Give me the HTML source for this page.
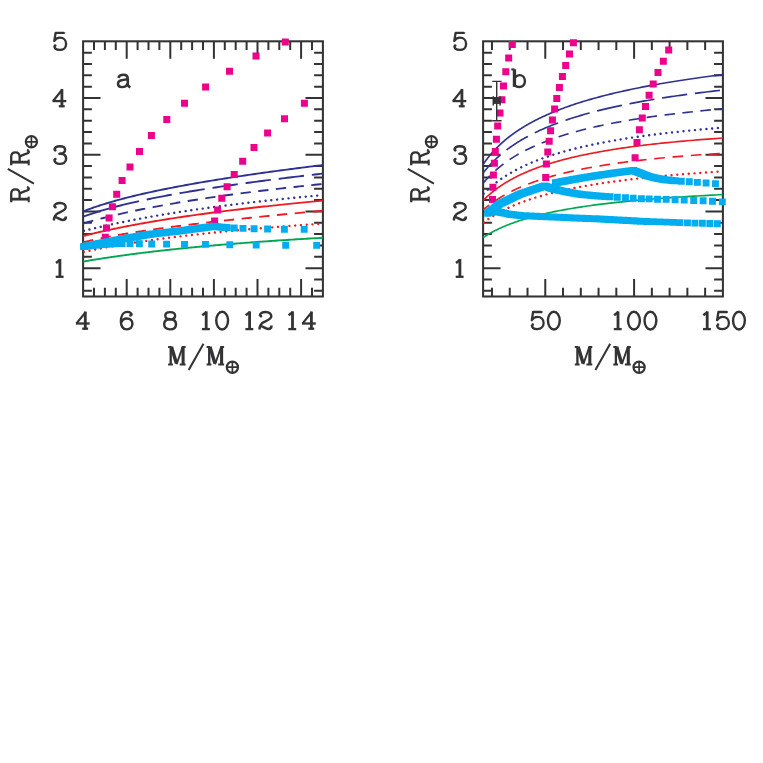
<!DOCTYPE html>
<html><head><meta charset="utf-8"><title>Mass-radius</title>
<style>html,body{margin:0;padding:0;background:#fff}svg{display:block}text{font-family:"Liberation Serif",serif}</style></head>
<body>
<svg width="763" height="763" viewBox="0 0 763 763">
<rect width="763" height="763" fill="#fff"/>
<path d="M94 41.3v8.8M94 296.5v-8.8M104.9 41.3v8.8M104.9 296.5v-8.8M115.8 41.3v8.8M115.8 296.5v-8.8M137.6 41.3v8.8M137.6 296.5v-8.8M148.5 41.3v8.8M148.5 296.5v-8.8M159.4 41.3v8.8M159.4 296.5v-8.8M181.2 41.3v8.8M181.2 296.5v-8.8M192.1 41.3v8.8M192.1 296.5v-8.8M203 41.3v8.8M203 296.5v-8.8M224.8 41.3v8.8M224.8 296.5v-8.8M235.7 41.3v8.8M235.7 296.5v-8.8M246.6 41.3v8.8M246.6 296.5v-8.8M268.4 41.3v8.8M268.4 296.5v-8.8M279.3 41.3v8.8M279.3 296.5v-8.8M290.2 41.3v8.8M290.2 296.5v-8.8M312 41.3v8.8M312 296.5v-8.8M126.7 41.3v17.4M126.7 296.5v-17.4M170.3 41.3v17.4M170.3 296.5v-17.4M213.9 41.3v17.4M213.9 296.5v-17.4M257.5 41.3v17.4M257.5 296.5v-17.4M301.1 41.3v17.4M301.1 296.5v-17.4M83.1 290.83h8.8M322.9 290.83h-8.8M83.1 279.49h8.8M322.9 279.49h-8.8M83.1 268.14h17.4M322.9 268.14h-17.4M83.1 256.8h8.8M322.9 256.8h-8.8M83.1 245.46h8.8M322.9 245.46h-8.8M83.1 234.12h8.8M322.9 234.12h-8.8M83.1 222.78h8.8M322.9 222.78h-8.8M83.1 211.43h17.4M322.9 211.43h-17.4M83.1 200.09h8.8M322.9 200.09h-8.8M83.1 188.75h8.8M322.9 188.75h-8.8M83.1 177.41h8.8M322.9 177.41h-8.8M83.1 166.06h8.8M322.9 166.06h-8.8M83.1 154.72h17.4M322.9 154.72h-17.4M83.1 143.38h8.8M322.9 143.38h-8.8M83.1 132.04h8.8M322.9 132.04h-8.8M83.1 120.7h8.8M322.9 120.7h-8.8M83.1 109.35h8.8M322.9 109.35h-8.8M83.1 98.01h17.4M322.9 98.01h-17.4M83.1 86.67h8.8M322.9 86.67h-8.8M83.1 75.33h8.8M322.9 75.33h-8.8M83.1 63.98h8.8M322.9 63.98h-8.8M83.1 52.64h8.8M322.9 52.64h-8.8" fill="none" stroke="#333335" stroke-width="2.0"/>
<rect x="83.1" y="41.3" width="239.8" height="255.2" fill="none" stroke="#333335" stroke-width="2.05"/>
<path d="M491.98 41.3v8.8M491.98 296.5v-8.8M509.74 41.3v8.8M509.74 296.5v-8.8M527.51 41.3v8.8M527.51 296.5v-8.8M563.03 41.3v8.8M563.03 296.5v-8.8M580.8 41.3v8.8M580.8 296.5v-8.8M598.56 41.3v8.8M598.56 296.5v-8.8M616.32 41.3v8.8M616.32 296.5v-8.8M651.85 41.3v8.8M651.85 296.5v-8.8M669.61 41.3v8.8M669.61 296.5v-8.8M687.37 41.3v8.8M687.37 296.5v-8.8M705.14 41.3v8.8M705.14 296.5v-8.8M545.27 41.3v17.4M545.27 296.5v-17.4M634.09 41.3v17.4M634.09 296.5v-17.4M483.1 290.83h8.8M722.9 290.83h-8.8M483.1 279.49h8.8M722.9 279.49h-8.8M483.1 268.14h17.4M722.9 268.14h-17.4M483.1 256.8h8.8M722.9 256.8h-8.8M483.1 245.46h8.8M722.9 245.46h-8.8M483.1 234.12h8.8M722.9 234.12h-8.8M483.1 222.78h8.8M722.9 222.78h-8.8M483.1 211.43h17.4M722.9 211.43h-17.4M483.1 200.09h8.8M722.9 200.09h-8.8M483.1 188.75h8.8M722.9 188.75h-8.8M483.1 177.41h8.8M722.9 177.41h-8.8M483.1 166.06h8.8M722.9 166.06h-8.8M483.1 154.72h17.4M722.9 154.72h-17.4M483.1 143.38h8.8M722.9 143.38h-8.8M483.1 132.04h8.8M722.9 132.04h-8.8M483.1 120.7h8.8M722.9 120.7h-8.8M483.1 109.35h8.8M722.9 109.35h-8.8M483.1 98.01h17.4M722.9 98.01h-17.4M483.1 86.67h8.8M722.9 86.67h-8.8M483.1 75.33h8.8M722.9 75.33h-8.8M483.1 63.98h8.8M722.9 63.98h-8.8M483.1 52.64h8.8M722.9 52.64h-8.8" fill="none" stroke="#333335" stroke-width="2.0"/>
<rect x="483.1" y="41.3" width="239.8" height="255.2" fill="none" stroke="#333335" stroke-width="2.05"/>
<clipPath id="ca"><rect x="83.1" y="37.3" width="239.8" height="259.2"/></clipPath>
<clipPath id="cb"><rect x="483.1" y="37.3" width="239.8" height="259.2"/></clipPath>
<g clip-path="url(#ca)">
<path d="M83.1 211.43 L83.83 211.15 L84.56 210.86 L85.3 210.57 L86.05 210.29 L86.8 210 L87.56 209.72 L88.32 209.44 L89.1 209.15 L89.87 208.87 L90.66 208.59 L91.45 208.3 L92.25 208.02 L93.05 207.74 L93.86 207.46 L94.68 207.17 L95.5 206.89 L96.34 206.61 L97.17 206.33 L98.02 206.05 L98.87 205.77 L99.73 205.49 L100.6 205.21 L101.47 204.93 L102.35 204.65 L103.24 204.37 L104.14 204.09 L105.04 203.81 L105.95 203.53 L106.87 203.25 L107.8 202.97 L108.73 202.69 L109.67 202.41 L110.62 202.13 L111.58 201.85 L112.55 201.57 L113.52 201.3 L114.5 201.02 L115.49 200.74 L116.49 200.46 L117.5 200.18 L118.51 199.9 L119.54 199.62 L120.57 199.35 L121.61 199.07 L122.66 198.79 L123.72 198.51 L124.78 198.23 L125.86 197.95 L126.94 197.68 L128.04 197.4 L129.14 197.12 L130.25 196.84 L131.38 196.56 L132.51 196.28 L133.65 196 L134.8 195.73 L135.96 195.45 L137.12 195.17 L138.3 194.89 L139.49 194.61 L140.69 194.33 L141.9 194.05 L143.12 193.77 L144.35 193.49 L145.59 193.21 L146.84 192.93 L148.1 192.65 L149.37 192.37 L150.65 192.09 L151.94 191.81 L153.24 191.53 L154.56 191.25 L155.88 190.96 L157.22 190.68 L158.56 190.4 L159.92 190.12 L161.29 189.84 L162.67 189.55 L164.06 189.27 L165.47 188.99 L166.88 188.7 L168.31 188.42 L169.75 188.13 L171.2 187.85 L172.66 187.57 L174.14 187.28 L175.63 186.99 L177.13 186.71 L178.64 186.42 L180.16 186.14 L181.7 185.85 L183.25 185.56 L184.82 185.27 L186.39 184.99 L187.98 184.7 L189.59 184.41 L191.2 184.12 L192.83 183.83 L194.48 183.54 L196.14 183.25 L197.81 182.96 L199.49 182.67 L201.19 182.37 L202.91 182.08 L204.63 181.79 L206.38 181.5 L208.13 181.2 L209.91 180.91 L211.69 180.61 L213.49 180.32 L215.31 180.02 L217.14 179.72 L218.99 179.43 L220.85 179.13 L222.73 178.83 L224.62 178.53 L226.53 178.23 L228.46 177.93 L230.4 177.63 L232.35 177.33 L234.33 177.03 L236.32 176.73 L238.33 176.42 L240.35 176.12 L242.39 175.82 L244.45 175.51 L246.52 175.21 L248.61 174.9 L250.72 174.59 L252.85 174.29 L255 173.98 L257.16 173.67 L259.34 173.36 L261.54 173.05 L263.76 172.74 L265.99 172.42 L268.25 172.11 L270.52 171.8 L272.81 171.48 L275.12 171.17 L277.45 170.85 L279.81 170.54 L282.18 170.22 L284.56 169.9 L286.97 169.58 L289.4 169.26 L291.85 168.94 L294.32 168.62 L296.82 168.3 L299.33 167.98 L301.86 167.65 L304.41 167.33 L306.99 167 L309.59 166.68 L312.21 166.35 L314.85 166.02 L317.51 165.69 L320.19 165.36 L322.9 165.03" fill="none" stroke="#2e3192" stroke-width="1.9"/>
<path d="M83.1 216.71 L83.83 216.45 L84.56 216.18 L85.3 215.92 L86.05 215.65 L86.8 215.39 L87.56 215.12 L88.32 214.86 L89.1 214.6 L89.87 214.33 L90.66 214.07 L91.45 213.81 L92.25 213.54 L93.05 213.28 L93.86 213.02 L94.68 212.76 L95.5 212.49 L96.34 212.23 L97.17 211.97 L98.02 211.71 L98.87 211.45 L99.73 211.19 L100.6 210.92 L101.47 210.66 L102.35 210.4 L103.24 210.14 L104.14 209.88 L105.04 209.62 L105.95 209.36 L106.87 209.1 L107.8 208.84 L108.73 208.58 L109.67 208.32 L110.62 208.06 L111.58 207.8 L112.55 207.54 L113.52 207.28 L114.5 207.02 L115.49 206.76 L116.49 206.5 L117.5 206.25 L118.51 205.99 L119.54 205.73 L120.57 205.47 L121.61 205.21 L122.66 204.95 L123.72 204.69 L124.78 204.43 L125.86 204.17 L126.94 203.91 L128.04 203.65 L129.14 203.39 L130.25 203.13 L131.38 202.87 L132.51 202.61 L133.65 202.35 L134.8 202.09 L135.96 201.83 L137.12 201.57 L138.3 201.31 L139.49 201.05 L140.69 200.79 L141.9 200.53 L143.12 200.27 L144.35 200.01 L145.59 199.75 L146.84 199.49 L148.1 199.23 L149.37 198.97 L150.65 198.7 L151.94 198.44 L153.24 198.18 L154.56 197.92 L155.88 197.66 L157.22 197.39 L158.56 197.13 L159.92 196.87 L161.29 196.61 L162.67 196.34 L164.06 196.08 L165.47 195.81 L166.88 195.55 L168.31 195.29 L169.75 195.02 L171.2 194.76 L172.66 194.49 L174.14 194.23 L175.63 193.96 L177.13 193.69 L178.64 193.43 L180.16 193.16 L181.7 192.89 L183.25 192.63 L184.82 192.36 L186.39 192.09 L187.98 191.82 L189.59 191.55 L191.2 191.28 L192.83 191.02 L194.48 190.75 L196.14 190.48 L197.81 190.2 L199.49 189.93 L201.19 189.66 L202.91 189.39 L204.63 189.12 L206.38 188.85 L208.13 188.57 L209.91 188.3 L211.69 188.02 L213.49 187.75 L215.31 187.48 L217.14 187.2 L218.99 186.92 L220.85 186.65 L222.73 186.37 L224.62 186.09 L226.53 185.82 L228.46 185.54 L230.4 185.26 L232.35 184.98 L234.33 184.7 L236.32 184.42 L238.33 184.14 L240.35 183.86 L242.39 183.57 L244.45 183.29 L246.52 183.01 L248.61 182.72 L250.72 182.44 L252.85 182.15 L255 181.87 L257.16 181.58 L259.34 181.3 L261.54 181.01 L263.76 180.72 L265.99 180.43 L268.25 180.14 L270.52 179.85 L272.81 179.56 L275.12 179.27 L277.45 178.98 L279.81 178.69 L282.18 178.39 L284.56 178.1 L286.97 177.8 L289.4 177.51 L291.85 177.21 L294.32 176.92 L296.82 176.62 L299.33 176.32 L301.86 176.02 L304.41 175.72 L306.99 175.42 L309.59 175.12 L312.21 174.82 L314.85 174.51 L317.51 174.21 L320.19 173.91 L322.9 173.6" fill="none" stroke="#2e3192" stroke-width="1.9" stroke-dasharray="58.07 7.87 25.5 7.9 25.5 7.9 25.5 7.9 25.5 7.9 25.5 7.9 25.5 7.9 25.5 7.9 25.5 7.9 25.5 7.9 25.5 7.9 25.5 7.9 25.5 7.9 25.5 7.9 25.5 7.9"/>
<path d="M83.1 223.5 L83.83 223.28 L84.56 223.07 L85.3 222.86 L86.05 222.64 L86.8 222.43 L87.56 222.21 L88.32 221.99 L89.1 221.78 L89.87 221.56 L90.66 221.34 L91.45 221.12 L92.25 220.9 L93.05 220.68 L93.86 220.46 L94.68 220.24 L95.5 220.02 L96.34 219.8 L97.17 219.58 L98.02 219.35 L98.87 219.13 L99.73 218.91 L100.6 218.68 L101.47 218.46 L102.35 218.23 L103.24 218.01 L104.14 217.78 L105.04 217.55 L105.95 217.32 L106.87 217.1 L107.8 216.87 L108.73 216.64 L109.67 216.41 L110.62 216.18 L111.58 215.95 L112.55 215.72 L113.52 215.48 L114.5 215.25 L115.49 215.02 L116.49 214.79 L117.5 214.55 L118.51 214.32 L119.54 214.08 L120.57 213.85 L121.61 213.61 L122.66 213.38 L123.72 213.14 L124.78 212.9 L125.86 212.67 L126.94 212.43 L128.04 212.19 L129.14 211.95 L130.25 211.71 L131.38 211.47 L132.51 211.23 L133.65 210.99 L134.8 210.75 L135.96 210.51 L137.12 210.27 L138.3 210.02 L139.49 209.78 L140.69 209.54 L141.9 209.29 L143.12 209.05 L144.35 208.81 L145.59 208.56 L146.84 208.31 L148.1 208.07 L149.37 207.82 L150.65 207.58 L151.94 207.33 L153.24 207.08 L154.56 206.83 L155.88 206.58 L157.22 206.34 L158.56 206.09 L159.92 205.84 L161.29 205.59 L162.67 205.34 L164.06 205.09 L165.47 204.84 L166.88 204.58 L168.31 204.33 L169.75 204.08 L171.2 203.83 L172.66 203.57 L174.14 203.32 L175.63 203.07 L177.13 202.81 L178.64 202.56 L180.16 202.3 L181.7 202.05 L183.25 201.79 L184.82 201.54 L186.39 201.28 L187.98 201.02 L189.59 200.77 L191.2 200.51 L192.83 200.25 L194.48 199.99 L196.14 199.73 L197.81 199.48 L199.49 199.22 L201.19 198.96 L202.91 198.7 L204.63 198.44 L206.38 198.18 L208.13 197.92 L209.91 197.65 L211.69 197.39 L213.49 197.13 L215.31 196.87 L217.14 196.61 L218.99 196.34 L220.85 196.08 L222.73 195.82 L224.62 195.56 L226.53 195.29 L228.46 195.03 L230.4 194.76 L232.35 194.5 L234.33 194.23 L236.32 193.97 L238.33 193.7 L240.35 193.44 L242.39 193.17 L244.45 192.9 L246.52 192.64 L248.61 192.37 L250.72 192.1 L252.85 191.83 L255 191.57 L257.16 191.3 L259.34 191.03 L261.54 190.76 L263.76 190.49 L265.99 190.22 L268.25 189.95 L270.52 189.69 L272.81 189.42 L275.12 189.15 L277.45 188.87 L279.81 188.6 L282.18 188.33 L284.56 188.06 L286.97 187.79 L289.4 187.52 L291.85 187.25 L294.32 186.98 L296.82 186.7 L299.33 186.43 L301.86 186.16 L304.41 185.89 L306.99 185.61 L309.59 185.34 L312.21 185.07 L314.85 184.79 L317.51 184.52 L320.19 184.24 L322.9 183.97" fill="none" stroke="#2e3192" stroke-width="1.9" stroke-dasharray="10.3 7.5" stroke-dashoffset="17.55"/>
<path d="M83.1 231.04 L83.83 230.86 L84.56 230.67 L85.3 230.49 L86.05 230.31 L86.8 230.12 L87.56 229.93 L88.32 229.75 L89.1 229.56 L89.87 229.37 L90.66 229.18 L91.45 228.99 L92.25 228.8 L93.05 228.6 L93.86 228.41 L94.68 228.22 L95.5 228.02 L96.34 227.83 L97.17 227.63 L98.02 227.43 L98.87 227.24 L99.73 227.04 L100.6 226.84 L101.47 226.64 L102.35 226.44 L103.24 226.24 L104.14 226.04 L105.04 225.83 L105.95 225.63 L106.87 225.43 L107.8 225.22 L108.73 225.02 L109.67 224.81 L110.62 224.6 L111.58 224.4 L112.55 224.19 L113.52 223.98 L114.5 223.77 L115.49 223.56 L116.49 223.35 L117.5 223.14 L118.51 222.93 L119.54 222.71 L120.57 222.5 L121.61 222.29 L122.66 222.07 L123.72 221.86 L124.78 221.64 L125.86 221.43 L126.94 221.21 L128.04 220.99 L129.14 220.78 L130.25 220.56 L131.38 220.34 L132.51 220.12 L133.65 219.9 L134.8 219.68 L135.96 219.46 L137.12 219.24 L138.3 219.01 L139.49 218.79 L140.69 218.57 L141.9 218.34 L143.12 218.12 L144.35 217.89 L145.59 217.67 L146.84 217.44 L148.1 217.22 L149.37 216.99 L150.65 216.76 L151.94 216.54 L153.24 216.31 L154.56 216.08 L155.88 215.85 L157.22 215.62 L158.56 215.39 L159.92 215.16 L161.29 214.93 L162.67 214.7 L164.06 214.47 L165.47 214.24 L166.88 214 L168.31 213.77 L169.75 213.54 L171.2 213.3 L172.66 213.07 L174.14 212.84 L175.63 212.6 L177.13 212.37 L178.64 212.13 L180.16 211.9 L181.7 211.66 L183.25 211.42 L184.82 211.19 L186.39 210.95 L187.98 210.71 L189.59 210.47 L191.2 210.24 L192.83 210 L194.48 209.76 L196.14 209.52 L197.81 209.28 L199.49 209.04 L201.19 208.8 L202.91 208.56 L204.63 208.32 L206.38 208.08 L208.13 207.84 L209.91 207.6 L211.69 207.36 L213.49 207.12 L215.31 206.87 L217.14 206.63 L218.99 206.39 L220.85 206.15 L222.73 205.9 L224.62 205.66 L226.53 205.42 L228.46 205.17 L230.4 204.93 L232.35 204.69 L234.33 204.44 L236.32 204.2 L238.33 203.95 L240.35 203.71 L242.39 203.46 L244.45 203.22 L246.52 202.98 L248.61 202.73 L250.72 202.48 L252.85 202.24 L255 201.99 L257.16 201.75 L259.34 201.5 L261.54 201.26 L263.76 201.01 L265.99 200.77 L268.25 200.52 L270.52 200.27 L272.81 200.03 L275.12 199.78 L277.45 199.53 L279.81 199.29 L282.18 199.04 L284.56 198.79 L286.97 198.55 L289.4 198.3 L291.85 198.05 L294.32 197.81 L296.82 197.56 L299.33 197.31 L301.86 197.07 L304.41 196.82 L306.99 196.57 L309.59 196.33 L312.21 196.08 L314.85 195.83 L317.51 195.59 L320.19 195.34 L322.9 195.09" fill="none" stroke="#2e3192" stroke-width="2.4" stroke-dasharray="0.01 5.75" stroke-dashoffset="4.95" stroke-linecap="round"/>
<path d="M83.1 236.03 L83.83 235.84 L84.56 235.65 L85.3 235.47 L86.05 235.28 L86.8 235.09 L87.56 234.9 L88.32 234.71 L89.1 234.52 L89.87 234.33 L90.66 234.14 L91.45 233.95 L92.25 233.75 L93.05 233.56 L93.86 233.37 L94.68 233.17 L95.5 232.98 L96.34 232.78 L97.17 232.59 L98.02 232.39 L98.87 232.19 L99.73 232 L100.6 231.8 L101.47 231.6 L102.35 231.4 L103.24 231.2 L104.14 231 L105.04 230.8 L105.95 230.6 L106.87 230.4 L107.8 230.19 L108.73 229.99 L109.67 229.79 L110.62 229.58 L111.58 229.38 L112.55 229.18 L113.52 228.97 L114.5 228.76 L115.49 228.56 L116.49 228.35 L117.5 228.14 L118.51 227.94 L119.54 227.73 L120.57 227.52 L121.61 227.31 L122.66 227.1 L123.72 226.89 L124.78 226.68 L125.86 226.47 L126.94 226.25 L128.04 226.04 L129.14 225.83 L130.25 225.62 L131.38 225.4 L132.51 225.19 L133.65 224.97 L134.8 224.76 L135.96 224.54 L137.12 224.33 L138.3 224.11 L139.49 223.9 L140.69 223.68 L141.9 223.46 L143.12 223.24 L144.35 223.02 L145.59 222.81 L146.84 222.59 L148.1 222.37 L149.37 222.15 L150.65 221.93 L151.94 221.7 L153.24 221.48 L154.56 221.26 L155.88 221.04 L157.22 220.82 L158.56 220.59 L159.92 220.37 L161.29 220.14 L162.67 219.92 L164.06 219.7 L165.47 219.47 L166.88 219.25 L168.31 219.02 L169.75 218.79 L171.2 218.57 L172.66 218.34 L174.14 218.11 L175.63 217.88 L177.13 217.66 L178.64 217.43 L180.16 217.2 L181.7 216.97 L183.25 216.74 L184.82 216.51 L186.39 216.28 L187.98 216.05 L189.59 215.82 L191.2 215.59 L192.83 215.35 L194.48 215.12 L196.14 214.89 L197.81 214.66 L199.49 214.42 L201.19 214.19 L202.91 213.96 L204.63 213.72 L206.38 213.49 L208.13 213.25 L209.91 213.02 L211.69 212.78 L213.49 212.55 L215.31 212.31 L217.14 212.08 L218.99 211.84 L220.85 211.6 L222.73 211.36 L224.62 211.13 L226.53 210.89 L228.46 210.65 L230.4 210.41 L232.35 210.17 L234.33 209.93 L236.32 209.7 L238.33 209.46 L240.35 209.22 L242.39 208.98 L244.45 208.74 L246.52 208.5 L248.61 208.25 L250.72 208.01 L252.85 207.77 L255 207.53 L257.16 207.29 L259.34 207.05 L261.54 206.8 L263.76 206.56 L265.99 206.32 L268.25 206.07 L270.52 205.83 L272.81 205.59 L275.12 205.34 L277.45 205.1 L279.81 204.85 L282.18 204.61 L284.56 204.37 L286.97 204.12 L289.4 203.87 L291.85 203.63 L294.32 203.38 L296.82 203.14 L299.33 202.89 L301.86 202.64 L304.41 202.4 L306.99 202.15 L309.59 201.9 L312.21 201.66 L314.85 201.41 L317.51 201.16 L320.19 200.91 L322.9 200.67" fill="none" stroke="#ed1c24" stroke-width="1.9"/>
<path d="M83.1 242.32 L83.83 242.14 L84.56 241.96 L85.3 241.78 L86.05 241.59 L86.8 241.41 L87.56 241.23 L88.32 241.05 L89.1 240.87 L89.87 240.69 L90.66 240.51 L91.45 240.33 L92.25 240.15 L93.05 239.97 L93.86 239.8 L94.68 239.62 L95.5 239.44 L96.34 239.26 L97.17 239.08 L98.02 238.9 L98.87 238.72 L99.73 238.54 L100.6 238.36 L101.47 238.18 L102.35 238 L103.24 237.83 L104.14 237.65 L105.04 237.47 L105.95 237.29 L106.87 237.11 L107.8 236.93 L108.73 236.75 L109.67 236.57 L110.62 236.39 L111.58 236.21 L112.55 236.04 L113.52 235.86 L114.5 235.68 L115.49 235.5 L116.49 235.32 L117.5 235.14 L118.51 234.96 L119.54 234.78 L120.57 234.6 L121.61 234.42 L122.66 234.24 L123.72 234.06 L124.78 233.88 L125.86 233.7 L126.94 233.51 L128.04 233.33 L129.14 233.15 L130.25 232.97 L131.38 232.79 L132.51 232.61 L133.65 232.42 L134.8 232.24 L135.96 232.06 L137.12 231.87 L138.3 231.69 L139.49 231.51 L140.69 231.32 L141.9 231.14 L143.12 230.96 L144.35 230.77 L145.59 230.59 L146.84 230.4 L148.1 230.21 L149.37 230.03 L150.65 229.84 L151.94 229.66 L153.24 229.47 L154.56 229.28 L155.88 229.09 L157.22 228.91 L158.56 228.72 L159.92 228.53 L161.29 228.34 L162.67 228.15 L164.06 227.96 L165.47 227.77 L166.88 227.58 L168.31 227.39 L169.75 227.19 L171.2 227 L172.66 226.81 L174.14 226.61 L175.63 226.42 L177.13 226.23 L178.64 226.03 L180.16 225.84 L181.7 225.64 L183.25 225.44 L184.82 225.25 L186.39 225.05 L187.98 224.85 L189.59 224.65 L191.2 224.45 L192.83 224.26 L194.48 224.06 L196.14 223.85 L197.81 223.65 L199.49 223.45 L201.19 223.25 L202.91 223.05 L204.63 222.84 L206.38 222.64 L208.13 222.43 L209.91 222.23 L211.69 222.02 L213.49 221.81 L215.31 221.6 L217.14 221.4 L218.99 221.19 L220.85 220.98 L222.73 220.77 L224.62 220.56 L226.53 220.34 L228.46 220.13 L230.4 219.92 L232.35 219.7 L234.33 219.49 L236.32 219.27 L238.33 219.06 L240.35 218.84 L242.39 218.62 L244.45 218.4 L246.52 218.18 L248.61 217.96 L250.72 217.74 L252.85 217.52 L255 217.3 L257.16 217.07 L259.34 216.85 L261.54 216.62 L263.76 216.4 L265.99 216.17 L268.25 215.94 L270.52 215.71 L272.81 215.48 L275.12 215.25 L277.45 215.02 L279.81 214.79 L282.18 214.56 L284.56 214.32 L286.97 214.09 L289.4 213.85 L291.85 213.61 L294.32 213.38 L296.82 213.14 L299.33 212.9 L301.86 212.66 L304.41 212.41 L306.99 212.17 L309.59 211.93 L312.21 211.68 L314.85 211.44 L317.51 211.19 L320.19 210.94 L322.9 210.69" fill="none" stroke="#ed1c24" stroke-width="1.9" stroke-dasharray="10.3 7.5" stroke-dashoffset="17.65"/>
<path d="M83.1 252.09 L83.83 251.93 L84.56 251.77 L85.3 251.61 L86.05 251.45 L86.8 251.29 L87.56 251.12 L88.32 250.96 L89.1 250.8 L89.87 250.63 L90.66 250.47 L91.45 250.3 L92.25 250.14 L93.05 249.97 L93.86 249.81 L94.68 249.64 L95.5 249.48 L96.34 249.31 L97.17 249.14 L98.02 248.97 L98.87 248.81 L99.73 248.64 L100.6 248.47 L101.47 248.3 L102.35 248.13 L103.24 247.96 L104.14 247.79 L105.04 247.62 L105.95 247.45 L106.87 247.28 L107.8 247.11 L108.73 246.94 L109.67 246.76 L110.62 246.59 L111.58 246.42 L112.55 246.25 L113.52 246.07 L114.5 245.9 L115.49 245.73 L116.49 245.55 L117.5 245.38 L118.51 245.2 L119.54 245.03 L120.57 244.85 L121.61 244.68 L122.66 244.5 L123.72 244.33 L124.78 244.15 L125.86 243.97 L126.94 243.8 L128.04 243.62 L129.14 243.44 L130.25 243.26 L131.38 243.09 L132.51 242.91 L133.65 242.73 L134.8 242.55 L135.96 242.37 L137.12 242.19 L138.3 242.02 L139.49 241.84 L140.69 241.66 L141.9 241.48 L143.12 241.3 L144.35 241.12 L145.59 240.94 L146.84 240.76 L148.1 240.58 L149.37 240.39 L150.65 240.21 L151.94 240.03 L153.24 239.85 L154.56 239.67 L155.88 239.49 L157.22 239.31 L158.56 239.12 L159.92 238.94 L161.29 238.76 L162.67 238.58 L164.06 238.39 L165.47 238.21 L166.88 238.03 L168.31 237.85 L169.75 237.66 L171.2 237.48 L172.66 237.3 L174.14 237.11 L175.63 236.93 L177.13 236.75 L178.64 236.56 L180.16 236.38 L181.7 236.19 L183.25 236.01 L184.82 235.82 L186.39 235.64 L187.98 235.46 L189.59 235.27 L191.2 235.09 L192.83 234.9 L194.48 234.72 L196.14 234.53 L197.81 234.35 L199.49 234.16 L201.19 233.98 L202.91 233.79 L204.63 233.61 L206.38 233.42 L208.13 233.24 L209.91 233.05 L211.69 232.87 L213.49 232.68 L215.31 232.5 L217.14 232.31 L218.99 232.12 L220.85 231.94 L222.73 231.75 L224.62 231.57 L226.53 231.38 L228.46 231.2 L230.4 231.01 L232.35 230.83 L234.33 230.64 L236.32 230.45 L238.33 230.27 L240.35 230.08 L242.39 229.9 L244.45 229.71 L246.52 229.53 L248.61 229.34 L250.72 229.16 L252.85 228.97 L255 228.79 L257.16 228.6 L259.34 228.41 L261.54 228.23 L263.76 228.04 L265.99 227.86 L268.25 227.67 L270.52 227.49 L272.81 227.3 L275.12 227.12 L277.45 226.93 L279.81 226.75 L282.18 226.56 L284.56 226.38 L286.97 226.2 L289.4 226.01 L291.85 225.83 L294.32 225.64 L296.82 225.46 L299.33 225.28 L301.86 225.09 L304.41 224.91 L306.99 224.72 L309.59 224.54 L312.21 224.36 L314.85 224.17 L317.51 223.99 L320.19 223.81 L322.9 223.62" fill="none" stroke="#ed1c24" stroke-width="2.4" stroke-dasharray="0.01 5.75" stroke-dashoffset="4.95" stroke-linecap="round"/>
<path d="M83.1 261.57 L83.83 261.45 L84.56 261.32 L85.3 261.2 L86.05 261.07 L86.8 260.94 L87.56 260.82 L88.32 260.69 L89.1 260.56 L89.87 260.43 L90.66 260.3 L91.45 260.17 L92.25 260.04 L93.05 259.91 L93.86 259.78 L94.68 259.65 L95.5 259.51 L96.34 259.38 L97.17 259.25 L98.02 259.11 L98.87 258.98 L99.73 258.84 L100.6 258.71 L101.47 258.57 L102.35 258.43 L103.24 258.3 L104.14 258.16 L105.04 258.02 L105.95 257.88 L106.87 257.74 L107.8 257.61 L108.73 257.47 L109.67 257.32 L110.62 257.18 L111.58 257.04 L112.55 256.9 L113.52 256.76 L114.5 256.62 L115.49 256.47 L116.49 256.33 L117.5 256.19 L118.51 256.04 L119.54 255.9 L120.57 255.75 L121.61 255.61 L122.66 255.46 L123.72 255.32 L124.78 255.17 L125.86 255.02 L126.94 254.88 L128.04 254.73 L129.14 254.58 L130.25 254.43 L131.38 254.28 L132.51 254.14 L133.65 253.99 L134.8 253.84 L135.96 253.69 L137.12 253.54 L138.3 253.39 L139.49 253.24 L140.69 253.09 L141.9 252.93 L143.12 252.78 L144.35 252.63 L145.59 252.48 L146.84 252.33 L148.1 252.18 L149.37 252.02 L150.65 251.87 L151.94 251.72 L153.24 251.56 L154.56 251.41 L155.88 251.26 L157.22 251.1 L158.56 250.95 L159.92 250.79 L161.29 250.64 L162.67 250.48 L164.06 250.33 L165.47 250.17 L166.88 250.02 L168.31 249.86 L169.75 249.71 L171.2 249.55 L172.66 249.39 L174.14 249.24 L175.63 249.08 L177.13 248.92 L178.64 248.77 L180.16 248.61 L181.7 248.45 L183.25 248.3 L184.82 248.14 L186.39 247.98 L187.98 247.82 L189.59 247.67 L191.2 247.51 L192.83 247.35 L194.48 247.19 L196.14 247.04 L197.81 246.88 L199.49 246.72 L201.19 246.56 L202.91 246.4 L204.63 246.24 L206.38 246.09 L208.13 245.93 L209.91 245.77 L211.69 245.61 L213.49 245.45 L215.31 245.29 L217.14 245.14 L218.99 244.98 L220.85 244.82 L222.73 244.66 L224.62 244.5 L226.53 244.34 L228.46 244.19 L230.4 244.03 L232.35 243.87 L234.33 243.71 L236.32 243.55 L238.33 243.39 L240.35 243.24 L242.39 243.08 L244.45 242.92 L246.52 242.76 L248.61 242.6 L250.72 242.45 L252.85 242.29 L255 242.13 L257.16 241.97 L259.34 241.82 L261.54 241.66 L263.76 241.5 L265.99 241.34 L268.25 241.19 L270.52 241.03 L272.81 240.87 L275.12 240.72 L277.45 240.56 L279.81 240.4 L282.18 240.25 L284.56 240.09 L286.97 239.94 L289.4 239.78 L291.85 239.63 L294.32 239.47 L296.82 239.32 L299.33 239.16 L301.86 239.01 L304.41 238.85 L306.99 238.7 L309.59 238.54 L312.21 238.39 L314.85 238.24 L317.51 238.08 L320.19 237.93 L322.9 237.78" fill="none" stroke="#00a651" stroke-width="1.9"/>
</g>
<g clip-path="url(#cb)">
<path d="M483.1 164.39 L483.49 163.82 L483.88 163.25 L484.28 162.68 L484.69 162.11 L485.1 161.54 L485.52 160.96 L485.94 160.39 L486.37 159.81 L486.81 159.24 L487.25 158.66 L487.7 158.08 L488.16 157.51 L488.62 156.93 L489.09 156.35 L489.56 155.77 L490.05 155.19 L490.54 154.6 L491.03 154.02 L491.54 153.44 L492.05 152.85 L492.57 152.27 L493.1 151.68 L493.63 151.1 L494.17 150.51 L494.72 149.93 L495.28 149.34 L495.85 148.75 L496.42 148.16 L497.01 147.57 L497.6 146.99 L498.2 146.4 L498.81 145.81 L499.42 145.22 L500.05 144.63 L500.69 144.03 L501.33 143.44 L501.99 142.85 L502.65 142.26 L503.32 141.67 L504.01 141.08 L504.7 140.48 L505.41 139.89 L506.12 139.3 L506.84 138.71 L507.58 138.11 L508.33 137.52 L509.08 136.93 L509.85 136.33 L510.63 135.74 L511.42 135.15 L512.22 134.55 L513.03 133.96 L513.86 133.37 L514.7 132.77 L515.55 132.18 L516.41 131.58 L517.28 130.99 L518.17 130.4 L519.07 129.81 L519.98 129.21 L520.91 128.62 L521.85 128.03 L522.8 127.44 L523.77 126.84 L524.75 126.25 L525.75 125.66 L526.76 125.07 L527.79 124.48 L528.83 123.89 L529.88 123.3 L530.95 122.71 L532.04 122.12 L533.14 121.53 L534.26 120.94 L535.4 120.35 L536.55 119.77 L537.72 119.18 L538.9 118.59 L540.1 118.01 L541.32 117.42 L542.56 116.84 L543.82 116.25 L545.09 115.67 L546.39 115.09 L547.7 114.5 L549.03 113.92 L550.38 113.34 L551.75 112.76 L553.14 112.18 L554.55 111.6 L555.98 111.02 L557.43 110.45 L558.91 109.87 L560.4 109.29 L561.92 108.72 L563.45 108.15 L565.02 107.57 L566.6 107 L568.21 106.43 L569.84 105.86 L571.49 105.29 L573.17 104.72 L574.87 104.15 L576.6 103.59 L578.35 103.02 L580.13 102.46 L581.93 101.9 L583.76 101.33 L585.62 100.77 L587.5 100.21 L589.42 99.65 L591.35 99.1 L593.32 98.54 L595.32 97.99 L597.34 97.43 L599.4 96.88 L601.48 96.33 L603.6 95.78 L605.75 95.23 L607.92 94.68 L610.13 94.14 L612.38 93.59 L614.65 93.05 L616.96 92.51 L619.3 91.97 L621.67 91.43 L624.08 90.89 L626.53 90.36 L629.01 89.82 L631.53 89.29 L634.08 88.76 L636.67 88.23 L639.3 87.7 L641.97 87.17 L644.67 86.65 L647.42 86.13 L650.21 85.6 L653.03 85.08 L655.9 84.57 L658.81 84.05 L661.76 83.54 L664.76 83.02 L667.79 82.51 L670.88 82 L674 81.5 L677.18 80.99 L680.4 80.49 L683.66 79.98 L686.98 79.49 L690.34 78.99 L693.75 78.49 L697.21 78 L700.73 77.51 L704.29 77.02 L707.9 76.53 L711.57 76.04 L715.29 75.56 L719.07 75.08 L722.9 74.6" fill="none" stroke="#2e3192" stroke-width="1.65"/>
<path d="M483.1 173.02 L483.49 172.53 L483.88 172.03 L484.28 171.52 L484.69 171.02 L485.1 170.51 L485.52 170.01 L485.94 169.5 L486.37 168.99 L486.81 168.47 L487.25 167.96 L487.7 167.45 L488.16 166.93 L488.62 166.41 L489.09 165.89 L489.56 165.37 L490.05 164.84 L490.54 164.32 L491.03 163.79 L491.54 163.27 L492.05 162.74 L492.57 162.21 L493.1 161.68 L493.63 161.15 L494.17 160.61 L494.72 160.08 L495.28 159.54 L495.85 159.01 L496.42 158.47 L497.01 157.93 L497.6 157.39 L498.2 156.85 L498.81 156.31 L499.42 155.76 L500.05 155.22 L500.69 154.68 L501.33 154.13 L501.99 153.58 L502.65 153.04 L503.32 152.49 L504.01 151.94 L504.7 151.39 L505.41 150.84 L506.12 150.29 L506.84 149.74 L507.58 149.19 L508.33 148.64 L509.08 148.08 L509.85 147.53 L510.63 146.98 L511.42 146.42 L512.22 145.87 L513.03 145.31 L513.86 144.76 L514.7 144.2 L515.55 143.65 L516.41 143.09 L517.28 142.54 L518.17 141.98 L519.07 141.42 L519.98 140.87 L520.91 140.31 L521.85 139.75 L522.8 139.2 L523.77 138.64 L524.75 138.08 L525.75 137.53 L526.76 136.97 L527.79 136.41 L528.83 135.86 L529.88 135.3 L530.95 134.74 L532.04 134.19 L533.14 133.63 L534.26 133.08 L535.4 132.52 L536.55 131.97 L537.72 131.41 L538.9 130.86 L540.1 130.31 L541.32 129.75 L542.56 129.2 L543.82 128.65 L545.09 128.1 L546.39 127.55 L547.7 127 L549.03 126.45 L550.38 125.9 L551.75 125.35 L553.14 124.8 L554.55 124.25 L555.98 123.71 L557.43 123.16 L558.91 122.62 L560.4 122.08 L561.92 121.53 L563.45 120.99 L565.02 120.45 L566.6 119.91 L568.21 119.37 L569.84 118.84 L571.49 118.3 L573.17 117.77 L574.87 117.23 L576.6 116.7 L578.35 116.17 L580.13 115.64 L581.93 115.11 L583.76 114.58 L585.62 114.05 L587.5 113.53 L589.42 113 L591.35 112.48 L593.32 111.96 L595.32 111.44 L597.34 110.92 L599.4 110.41 L601.48 109.89 L603.6 109.38 L605.75 108.87 L607.92 108.36 L610.13 107.85 L612.38 107.34 L614.65 106.84 L616.96 106.33 L619.3 105.83 L621.67 105.33 L624.08 104.84 L626.53 104.34 L629.01 103.85 L631.53 103.35 L634.08 102.86 L636.67 102.38 L639.3 101.89 L641.97 101.41 L644.67 100.93 L647.42 100.45 L650.21 99.97 L653.03 99.49 L655.9 99.02 L658.81 98.55 L661.76 98.08 L664.76 97.61 L667.79 97.15 L670.88 96.69 L674 96.23 L677.18 95.77 L680.4 95.32 L683.66 94.87 L686.98 94.42 L690.34 93.97 L693.75 93.53 L697.21 93.09 L700.73 92.65 L704.29 92.21 L707.9 91.78 L711.57 91.35 L715.29 90.92 L719.07 90.49 L722.9 90.07" fill="none" stroke="#2e3192" stroke-width="1.65" stroke-dasharray="25.3 7.8" stroke-dashoffset="0.08"/>
<path d="M483.1 183.24 L483.49 182.77 L483.88 182.3 L484.28 181.83 L484.69 181.36 L485.1 180.88 L485.52 180.41 L485.94 179.93 L486.37 179.45 L486.81 178.97 L487.25 178.49 L487.7 178 L488.16 177.52 L488.62 177.03 L489.09 176.55 L489.56 176.06 L490.05 175.57 L490.54 175.08 L491.03 174.59 L491.54 174.09 L492.05 173.6 L492.57 173.1 L493.1 172.61 L493.63 172.11 L494.17 171.61 L494.72 171.11 L495.28 170.61 L495.85 170.11 L496.42 169.61 L497.01 169.11 L497.6 168.6 L498.2 168.1 L498.81 167.59 L499.42 167.09 L500.05 166.58 L500.69 166.08 L501.33 165.57 L501.99 165.06 L502.65 164.55 L503.32 164.04 L504.01 163.53 L504.7 163.02 L505.41 162.51 L506.12 162 L506.84 161.49 L507.58 160.98 L508.33 160.47 L509.08 159.96 L509.85 159.45 L510.63 158.93 L511.42 158.42 L512.22 157.91 L513.03 157.4 L513.86 156.88 L514.7 156.37 L515.55 155.86 L516.41 155.35 L517.28 154.83 L518.17 154.32 L519.07 153.81 L519.98 153.3 L520.91 152.79 L521.85 152.27 L522.8 151.76 L523.77 151.25 L524.75 150.74 L525.75 150.23 L526.76 149.72 L527.79 149.21 L528.83 148.7 L529.88 148.2 L530.95 147.69 L532.04 147.18 L533.14 146.67 L534.26 146.17 L535.4 145.66 L536.55 145.16 L537.72 144.65 L538.9 144.15 L540.1 143.65 L541.32 143.15 L542.56 142.65 L543.82 142.15 L545.09 141.65 L546.39 141.15 L547.7 140.65 L549.03 140.16 L550.38 139.66 L551.75 139.17 L553.14 138.67 L554.55 138.18 L555.98 137.69 L557.43 137.2 L558.91 136.71 L560.4 136.23 L561.92 135.74 L563.45 135.26 L565.02 134.78 L566.6 134.29 L568.21 133.81 L569.84 133.34 L571.49 132.86 L573.17 132.38 L574.87 131.91 L576.6 131.44 L578.35 130.97 L580.13 130.5 L581.93 130.03 L583.76 129.56 L585.62 129.1 L587.5 128.64 L589.42 128.18 L591.35 127.72 L593.32 127.26 L595.32 126.81 L597.34 126.35 L599.4 125.9 L601.48 125.45 L603.6 125.01 L605.75 124.56 L607.92 124.12 L610.13 123.68 L612.38 123.24 L614.65 122.8 L616.96 122.37 L619.3 121.94 L621.67 121.51 L624.08 121.08 L626.53 120.66 L629.01 120.23 L631.53 119.81 L634.08 119.4 L636.67 118.98 L639.3 118.57 L641.97 118.16 L644.67 117.75 L647.42 117.35 L650.21 116.94 L653.03 116.54 L655.9 116.15 L658.81 115.75 L661.76 115.36 L664.76 114.97 L667.79 114.59 L670.88 114.2 L674 113.82 L677.18 113.45 L680.4 113.07 L683.66 112.7 L686.98 112.33 L690.34 111.97 L693.75 111.61 L697.21 111.25 L700.73 110.89 L704.29 110.54 L707.9 110.19 L711.57 109.84 L715.29 109.5 L719.07 109.16 L722.9 108.82" fill="none" stroke="#2e3192" stroke-width="1.65" stroke-dasharray="10.5 7.55" stroke-dashoffset="0.43"/>
<path d="M483.1 194.24 L483.49 193.84 L483.88 193.43 L484.28 193.02 L484.69 192.61 L485.1 192.2 L485.52 191.79 L485.94 191.37 L486.37 190.96 L486.81 190.54 L487.25 190.12 L487.7 189.7 L488.16 189.28 L488.62 188.85 L489.09 188.43 L489.56 188 L490.05 187.57 L490.54 187.15 L491.03 186.72 L491.54 186.28 L492.05 185.85 L492.57 185.42 L493.1 184.98 L493.63 184.55 L494.17 184.11 L494.72 183.67 L495.28 183.23 L495.85 182.79 L496.42 182.35 L497.01 181.91 L497.6 181.47 L498.2 181.02 L498.81 180.58 L499.42 180.13 L500.05 179.68 L500.69 179.24 L501.33 178.79 L501.99 178.34 L502.65 177.89 L503.32 177.44 L504.01 176.99 L504.7 176.54 L505.41 176.09 L506.12 175.64 L506.84 175.18 L507.58 174.73 L508.33 174.28 L509.08 173.82 L509.85 173.37 L510.63 172.91 L511.42 172.46 L512.22 172 L513.03 171.55 L513.86 171.09 L514.7 170.64 L515.55 170.18 L516.41 169.72 L517.28 169.27 L518.17 168.81 L519.07 168.36 L519.98 167.9 L520.91 167.44 L521.85 166.99 L522.8 166.53 L523.77 166.07 L524.75 165.62 L525.75 165.16 L526.76 164.71 L527.79 164.25 L528.83 163.8 L529.88 163.34 L530.95 162.89 L532.04 162.43 L533.14 161.98 L534.26 161.52 L535.4 161.07 L536.55 160.62 L537.72 160.17 L538.9 159.72 L540.1 159.27 L541.32 158.81 L542.56 158.37 L543.82 157.92 L545.09 157.47 L546.39 157.02 L547.7 156.57 L549.03 156.13 L550.38 155.68 L551.75 155.24 L553.14 154.79 L554.55 154.35 L555.98 153.91 L557.43 153.47 L558.91 153.03 L560.4 152.59 L561.92 152.15 L563.45 151.71 L565.02 151.28 L566.6 150.84 L568.21 150.41 L569.84 149.98 L571.49 149.55 L573.17 149.12 L574.87 148.69 L576.6 148.26 L578.35 147.84 L580.13 147.41 L581.93 146.99 L583.76 146.57 L585.62 146.15 L587.5 145.73 L589.42 145.31 L591.35 144.9 L593.32 144.48 L595.32 144.07 L597.34 143.66 L599.4 143.25 L601.48 142.84 L603.6 142.44 L605.75 142.03 L607.92 141.63 L610.13 141.23 L612.38 140.83 L614.65 140.44 L616.96 140.04 L619.3 139.65 L621.67 139.26 L624.08 138.87 L626.53 138.48 L629.01 138.1 L631.53 137.71 L634.08 137.33 L636.67 136.96 L639.3 136.58 L641.97 136.21 L644.67 135.83 L647.42 135.46 L650.21 135.1 L653.03 134.73 L655.9 134.37 L658.81 134.01 L661.76 133.65 L664.76 133.3 L667.79 132.94 L670.88 132.59 L674 132.25 L677.18 131.9 L680.4 131.56 L683.66 131.22 L686.98 130.88 L690.34 130.55 L693.75 130.22 L697.21 129.89 L700.73 129.56 L704.29 129.24 L707.9 128.92 L711.57 128.6 L715.29 128.28 L719.07 127.97 L722.9 127.66" fill="none" stroke="#2e3192" stroke-width="2.4" stroke-dasharray="0.01 5.75" stroke-dashoffset="4.96" stroke-linecap="round"/>
<path d="M483.1 200.52 L483.49 200.12 L483.88 199.73 L484.28 199.33 L484.69 198.93 L485.1 198.53 L485.52 198.12 L485.94 197.72 L486.37 197.31 L486.81 196.9 L487.25 196.49 L487.7 196.08 L488.16 195.67 L488.62 195.26 L489.09 194.84 L489.56 194.43 L490.05 194.01 L490.54 193.59 L491.03 193.18 L491.54 192.75 L492.05 192.33 L492.57 191.91 L493.1 191.49 L493.63 191.06 L494.17 190.64 L494.72 190.21 L495.28 189.79 L495.85 189.36 L496.42 188.93 L497.01 188.5 L497.6 188.07 L498.2 187.64 L498.81 187.21 L499.42 186.78 L500.05 186.34 L500.69 185.91 L501.33 185.48 L501.99 185.04 L502.65 184.61 L503.32 184.17 L504.01 183.74 L504.7 183.3 L505.41 182.87 L506.12 182.43 L506.84 181.99 L507.58 181.55 L508.33 181.12 L509.08 180.68 L509.85 180.24 L510.63 179.8 L511.42 179.37 L512.22 178.93 L513.03 178.49 L513.86 178.05 L514.7 177.61 L515.55 177.17 L516.41 176.74 L517.28 176.3 L518.17 175.86 L519.07 175.42 L519.98 174.99 L520.91 174.55 L521.85 174.11 L522.8 173.68 L523.77 173.24 L524.75 172.8 L525.75 172.37 L526.76 171.93 L527.79 171.5 L528.83 171.06 L529.88 170.63 L530.95 170.2 L532.04 169.77 L533.14 169.33 L534.26 168.9 L535.4 168.47 L536.55 168.04 L537.72 167.61 L538.9 167.19 L540.1 166.76 L541.32 166.33 L542.56 165.91 L543.82 165.48 L545.09 165.06 L546.39 164.64 L547.7 164.21 L549.03 163.79 L550.38 163.37 L551.75 162.96 L553.14 162.54 L554.55 162.12 L555.98 161.71 L557.43 161.29 L558.91 160.88 L560.4 160.47 L561.92 160.06 L563.45 159.65 L565.02 159.24 L566.6 158.84 L568.21 158.44 L569.84 158.03 L571.49 157.63 L573.17 157.23 L574.87 156.83 L576.6 156.44 L578.35 156.04 L580.13 155.65 L581.93 155.26 L583.76 154.87 L585.62 154.48 L587.5 154.09 L589.42 153.71 L591.35 153.33 L593.32 152.95 L595.32 152.57 L597.34 152.19 L599.4 151.82 L601.48 151.44 L603.6 151.07 L605.75 150.7 L607.92 150.34 L610.13 149.97 L612.38 149.61 L614.65 149.25 L616.96 148.89 L619.3 148.54 L621.67 148.19 L624.08 147.84 L626.53 147.49 L629.01 147.14 L631.53 146.8 L634.08 146.46 L636.67 146.12 L639.3 145.78 L641.97 145.45 L644.67 145.12 L647.42 144.79 L650.21 144.46 L653.03 144.14 L655.9 143.82 L658.81 143.5 L661.76 143.19 L664.76 142.88 L667.79 142.57 L670.88 142.26 L674 141.96 L677.18 141.66 L680.4 141.36 L683.66 141.07 L686.98 140.78 L690.34 140.49 L693.75 140.21 L697.21 139.92 L700.73 139.64 L704.29 139.37 L707.9 139.1 L711.57 138.83 L715.29 138.56 L719.07 138.3 L722.9 138.04" fill="none" stroke="#ed1c24" stroke-width="1.65"/>
<path d="M483.1 209.99 L483.49 209.66 L483.88 209.32 L484.28 208.99 L484.69 208.65 L485.1 208.31 L485.52 207.97 L485.94 207.62 L486.37 207.27 L486.81 206.93 L487.25 206.58 L487.7 206.22 L488.16 205.87 L488.62 205.51 L489.09 205.16 L489.56 204.8 L490.05 204.44 L490.54 204.07 L491.03 203.71 L491.54 203.34 L492.05 202.98 L492.57 202.61 L493.1 202.24 L493.63 201.86 L494.17 201.49 L494.72 201.11 L495.28 200.74 L495.85 200.36 L496.42 199.98 L497.01 199.6 L497.6 199.22 L498.2 198.84 L498.81 198.45 L499.42 198.07 L500.05 197.68 L500.69 197.3 L501.33 196.91 L501.99 196.52 L502.65 196.13 L503.32 195.74 L504.01 195.35 L504.7 194.96 L505.41 194.56 L506.12 194.17 L506.84 193.77 L507.58 193.38 L508.33 192.98 L509.08 192.59 L509.85 192.19 L510.63 191.79 L511.42 191.4 L512.22 191 L513.03 190.6 L513.86 190.2 L514.7 189.8 L515.55 189.4 L516.41 189 L517.28 188.6 L518.17 188.2 L519.07 187.8 L519.98 187.4 L520.91 187 L521.85 186.6 L522.8 186.2 L523.77 185.8 L524.75 185.4 L525.75 185 L526.76 184.6 L527.79 184.2 L528.83 183.8 L529.88 183.4 L530.95 183 L532.04 182.6 L533.14 182.2 L534.26 181.8 L535.4 181.41 L536.55 181.01 L537.72 180.61 L538.9 180.22 L540.1 179.82 L541.32 179.43 L542.56 179.03 L543.82 178.64 L545.09 178.25 L546.39 177.85 L547.7 177.46 L549.03 177.07 L550.38 176.68 L551.75 176.29 L553.14 175.91 L554.55 175.52 L555.98 175.14 L557.43 174.75 L558.91 174.37 L560.4 173.99 L561.92 173.6 L563.45 173.23 L565.02 172.85 L566.6 172.47 L568.21 172.09 L569.84 171.72 L571.49 171.35 L573.17 170.98 L574.87 170.6 L576.6 170.24 L578.35 169.87 L580.13 169.5 L581.93 169.14 L583.76 168.78 L585.62 168.42 L587.5 168.06 L589.42 167.7 L591.35 167.35 L593.32 166.99 L595.32 166.64 L597.34 166.29 L599.4 165.95 L601.48 165.6 L603.6 165.26 L605.75 164.92 L607.92 164.58 L610.13 164.24 L612.38 163.9 L614.65 163.57 L616.96 163.24 L619.3 162.91 L621.67 162.59 L624.08 162.26 L626.53 161.94 L629.01 161.62 L631.53 161.31 L634.08 160.99 L636.67 160.68 L639.3 160.37 L641.97 160.07 L644.67 159.76 L647.42 159.46 L650.21 159.17 L653.03 158.87 L655.9 158.58 L658.81 158.29 L661.76 158 L664.76 157.72 L667.79 157.44 L670.88 157.16 L674 156.89 L677.18 156.61 L680.4 156.35 L683.66 156.08 L686.98 155.82 L690.34 155.56 L693.75 155.3 L697.21 155.05 L700.73 154.8 L704.29 154.56 L707.9 154.31 L711.57 154.08 L715.29 153.84 L719.07 153.61 L722.9 153.38" fill="none" stroke="#ed1c24" stroke-width="1.65" stroke-dasharray="10.7 7.7" stroke-dashoffset="2.86"/>
<path d="M483.1 222.96 L483.49 222.66 L483.88 222.36 L484.28 222.06 L484.69 221.76 L485.1 221.46 L485.52 221.15 L485.94 220.84 L486.37 220.53 L486.81 220.22 L487.25 219.91 L487.7 219.59 L488.16 219.28 L488.62 218.96 L489.09 218.64 L489.56 218.32 L490.05 218 L490.54 217.68 L491.03 217.36 L491.54 217.03 L492.05 216.71 L492.57 216.38 L493.1 216.05 L493.63 215.72 L494.17 215.39 L494.72 215.06 L495.28 214.72 L495.85 214.39 L496.42 214.05 L497.01 213.72 L497.6 213.38 L498.2 213.04 L498.81 212.7 L499.42 212.36 L500.05 212.02 L500.69 211.68 L501.33 211.34 L501.99 211 L502.65 210.65 L503.32 210.31 L504.01 209.96 L504.7 209.62 L505.41 209.27 L506.12 208.92 L506.84 208.57 L507.58 208.22 L508.33 207.88 L509.08 207.53 L509.85 207.18 L510.63 206.82 L511.42 206.47 L512.22 206.12 L513.03 205.77 L513.86 205.42 L514.7 205.06 L515.55 204.71 L516.41 204.36 L517.28 204.01 L518.17 203.65 L519.07 203.3 L519.98 202.94 L520.91 202.59 L521.85 202.23 L522.8 201.88 L523.77 201.53 L524.75 201.17 L525.75 200.82 L526.76 200.46 L527.79 200.11 L528.83 199.75 L529.88 199.4 L530.95 199.04 L532.04 198.69 L533.14 198.34 L534.26 197.98 L535.4 197.63 L536.55 197.28 L537.72 196.92 L538.9 196.57 L540.1 196.22 L541.32 195.87 L542.56 195.51 L543.82 195.16 L545.09 194.81 L546.39 194.46 L547.7 194.11 L549.03 193.76 L550.38 193.41 L551.75 193.06 L553.14 192.72 L554.55 192.37 L555.98 192.02 L557.43 191.68 L558.91 191.33 L560.4 190.99 L561.92 190.64 L563.45 190.3 L565.02 189.96 L566.6 189.62 L568.21 189.28 L569.84 188.94 L571.49 188.6 L573.17 188.26 L574.87 187.93 L576.6 187.59 L578.35 187.26 L580.13 186.92 L581.93 186.59 L583.76 186.26 L585.62 185.93 L587.5 185.6 L589.42 185.27 L591.35 184.95 L593.32 184.62 L595.32 184.3 L597.34 183.97 L599.4 183.65 L601.48 183.33 L603.6 183.01 L605.75 182.7 L607.92 182.38 L610.13 182.06 L612.38 181.75 L614.65 181.44 L616.96 181.13 L619.3 180.82 L621.67 180.51 L624.08 180.21 L626.53 179.91 L629.01 179.6 L631.53 179.3 L634.08 179 L636.67 178.71 L639.3 178.41 L641.97 178.12 L644.67 177.83 L647.42 177.54 L650.21 177.25 L653.03 176.96 L655.9 176.68 L658.81 176.4 L661.76 176.12 L664.76 175.84 L667.79 175.56 L670.88 175.29 L674 175.02 L677.18 174.75 L680.4 174.48 L683.66 174.22 L686.98 173.95 L690.34 173.69 L693.75 173.43 L697.21 173.18 L700.73 172.92 L704.29 172.67 L707.9 172.42 L711.57 172.17 L715.29 171.93 L719.07 171.69 L722.9 171.45" fill="none" stroke="#ed1c24" stroke-width="2.4" stroke-dasharray="0.01 5.75" stroke-dashoffset="4.96" stroke-linecap="round"/>
<path d="M483.1 237.52 L483.49 237.27 L483.88 237.02 L484.28 236.76 L484.69 236.5 L485.1 236.25 L485.52 235.99 L485.94 235.72 L486.37 235.46 L486.81 235.2 L487.25 234.93 L487.7 234.67 L488.16 234.4 L488.62 234.13 L489.09 233.86 L489.56 233.59 L490.05 233.31 L490.54 233.04 L491.03 232.76 L491.54 232.49 L492.05 232.21 L492.57 231.93 L493.1 231.65 L493.63 231.37 L494.17 231.09 L494.72 230.81 L495.28 230.53 L495.85 230.24 L496.42 229.96 L497.01 229.67 L497.6 229.39 L498.2 229.1 L498.81 228.81 L499.42 228.52 L500.05 228.23 L500.69 227.94 L501.33 227.65 L501.99 227.36 L502.65 227.07 L503.32 226.77 L504.01 226.48 L504.7 226.19 L505.41 225.89 L506.12 225.6 L506.84 225.3 L507.58 225.01 L508.33 224.71 L509.08 224.41 L509.85 224.12 L510.63 223.82 L511.42 223.52 L512.22 223.22 L513.03 222.92 L513.86 222.63 L514.7 222.33 L515.55 222.03 L516.41 221.73 L517.28 221.43 L518.17 221.13 L519.07 220.83 L519.98 220.53 L520.91 220.23 L521.85 219.93 L522.8 219.63 L523.77 219.33 L524.75 219.03 L525.75 218.73 L526.76 218.43 L527.79 218.13 L528.83 217.84 L529.88 217.54 L530.95 217.24 L532.04 216.94 L533.14 216.64 L534.26 216.34 L535.4 216.04 L536.55 215.75 L537.72 215.45 L538.9 215.15 L540.1 214.86 L541.32 214.56 L542.56 214.27 L543.82 213.97 L545.09 213.68 L546.39 213.38 L547.7 213.09 L549.03 212.8 L550.38 212.5 L551.75 212.21 L553.14 211.92 L554.55 211.63 L555.98 211.34 L557.43 211.05 L558.91 210.76 L560.4 210.48 L561.92 210.19 L563.45 209.9 L565.02 209.62 L566.6 209.33 L568.21 209.05 L569.84 208.77 L571.49 208.49 L573.17 208.21 L574.87 207.93 L576.6 207.65 L578.35 207.37 L580.13 207.09 L581.93 206.82 L583.76 206.55 L585.62 206.27 L587.5 206 L589.42 205.73 L591.35 205.46 L593.32 205.19 L595.32 204.92 L597.34 204.66 L599.4 204.39 L601.48 204.13 L603.6 203.87 L605.75 203.61 L607.92 203.35 L610.13 203.09 L612.38 202.84 L614.65 202.58 L616.96 202.33 L619.3 202.08 L621.67 201.83 L624.08 201.58 L626.53 201.33 L629.01 201.09 L631.53 200.84 L634.08 200.6 L636.67 200.36 L639.3 200.12 L641.97 199.89 L644.67 199.65 L647.42 199.42 L650.21 199.19 L653.03 198.96 L655.9 198.73 L658.81 198.51 L661.76 198.28 L664.76 198.06 L667.79 197.84 L670.88 197.62 L674 197.41 L677.18 197.19 L680.4 196.98 L683.66 196.77 L686.98 196.57 L690.34 196.36 L693.75 196.16 L697.21 195.96 L700.73 195.76 L704.29 195.56 L707.9 195.37 L711.57 195.18 L715.29 194.99 L719.07 194.8 L722.9 194.62" fill="none" stroke="#00a651" stroke-width="1.65"/>
</g>
<path d="M101.8 233.7h7v7h-7zM103 224.5h7v7h-7zM105.6 214.4h7v7h-7zM108.9 203.3h7v7h-7zM113.2 190.7h7v7h-7zM118.6 177.1h7v7h-7zM126.5 163.5h7v7h-7zM136 148.1h7v7h-7zM147.9 132.1h7v7h-7zM163.3 116.1h7v7h-7zM181 99.8h7v7h-7zM202.1 83.4h7v7h-7zM226 67.7h7v7h-7zM252.5 52.4h7v7h-7zM281.8 38.4h7v7h-7zM211.1 217.5h7v7h-7zM214.1 206.4h7v7h-7zM218.3 194.7h7v7h-7zM223.6 183.2h7v7h-7zM230.7 171h7v7h-7zM239.2 157.7h7v7h-7zM250.5 144h7v7h-7zM264.1 129.4h7v7h-7zM281 115.2h7v7h-7zM300.9 99.8h7v7h-7z" fill="#ec008c"/>
<path d="M488.7 208.3h7v7h-7zM489 195.9h7v7h-7zM489.4 183.7h7v7h-7zM489.9 171.4h7v7h-7zM490.9 159.8h7v7h-7zM491.8 148h7v7h-7zM492.9 135.8h7v7h-7zM494.2 122.6h7v7h-7zM496.5 109.5h7v7h-7zM498.4 96.2h7v7h-7zM500 82.5h7v7h-7zM502.3 68.3h7v7h-7zM505.2 54.5h7v7h-7zM508.8 41.1h7v7h-7zM542.2 174h7v7h-7zM542.9 160.4h7v7h-7zM544.3 148.5h7v7h-7zM545.7 137.8h7v7h-7zM547.1 127.3h7v7h-7zM548.9 116.6h7v7h-7zM551.1 105.6h7v7h-7zM553.3 94.9h7v7h-7zM555.9 83.9h7v7h-7zM558.9 72.9h7v7h-7zM562.2 61.9h7v7h-7zM566 50.6h7v7h-7zM569.9 39.3h7v7h-7zM631.6 154.3h7v7h-7zM633.5 139.1h7v7h-7zM635.9 126.2h7v7h-7zM638.8 114.6h7v7h-7zM642 102.9h7v7h-7zM645.6 91.8h7v7h-7zM649.7 80.5h7v7h-7zM654.5 69h7v7h-7zM659.8 57.7h7v7h-7zM665.2 46.5h7v7h-7z" fill="#ec008c"/>
<path d="M80.05 243.15h6.9v6.9h-6.9zM81.03 242.96h6.9v6.9h-6.9zM82 242.77h6.9v6.9h-6.9zM82.98 242.58h6.9v6.9h-6.9zM83.95 242.39h6.9v6.9h-6.9zM84.93 242.2h6.9v6.9h-6.9zM85.91 242.01h6.9v6.9h-6.9zM86.88 241.82h6.9v6.9h-6.9zM87.86 241.63h6.9v6.9h-6.9zM88.84 241.44h6.9v6.9h-6.9zM89.81 241.25h6.9v6.9h-6.9zM90.79 241.05h6.9v6.9h-6.9zM91.76 240.86h6.9v6.9h-6.9zM92.74 240.67h6.9v6.9h-6.9zM93.72 240.48h6.9v6.9h-6.9zM94.69 240.29h6.9v6.9h-6.9zM95.67 240.1h6.9v6.9h-6.9zM96.65 239.91h6.9v6.9h-6.9zM97.62 239.72h6.9v6.9h-6.9zM98.6 239.53h6.9v6.9h-6.9zM99.57 239.34h6.9v6.9h-6.9zM100.55 239.15h6.9v6.9h-6.9zM101.55 238.96h6.9v6.9h-6.9zM102.55 238.76h6.9v6.9h-6.9zM103.55 238.56h6.9v6.9h-6.9zM104.55 238.37h6.9v6.9h-6.9zM105.55 238.18h6.9v6.9h-6.9zM106.55 237.98h6.9v6.9h-6.9zM107.55 237.78h6.9v6.9h-6.9zM108.55 237.59h6.9v6.9h-6.9zM109.55 237.4h6.9v6.9h-6.9zM110.55 237.2h6.9v6.9h-6.9zM111.55 237h6.9v6.9h-6.9zM112.55 236.81h6.9v6.9h-6.9zM113.55 236.62h6.9v6.9h-6.9zM114.55 236.42h6.9v6.9h-6.9zM115.55 236.22h6.9v6.9h-6.9zM116.55 236.03h6.9v6.9h-6.9zM117.55 235.84h6.9v6.9h-6.9zM118.55 235.64h6.9v6.9h-6.9zM119.55 235.44h6.9v6.9h-6.9zM120.55 235.25h6.9v6.9h-6.9zM121.55 235.08h6.9v6.9h-6.9zM122.55 234.91h6.9v6.9h-6.9zM123.55 234.74h6.9v6.9h-6.9zM124.55 234.57h6.9v6.9h-6.9zM125.55 234.4h6.9v6.9h-6.9zM126.55 234.23h6.9v6.9h-6.9zM127.55 234.07h6.9v6.9h-6.9zM128.55 233.9h6.9v6.9h-6.9zM129.55 233.73h6.9v6.9h-6.9zM130.55 233.56h6.9v6.9h-6.9zM131.55 233.39h6.9v6.9h-6.9zM132.55 233.22h6.9v6.9h-6.9zM133.55 233.05h6.9v6.9h-6.9zM134.55 232.88h6.9v6.9h-6.9zM135.55 232.71h6.9v6.9h-6.9zM136.55 232.54h6.9v6.9h-6.9zM137.55 232.37h6.9v6.9h-6.9zM138.55 232.2h6.9v6.9h-6.9zM139.55 232.03h6.9v6.9h-6.9zM140.55 231.87h6.9v6.9h-6.9zM141.55 231.7h6.9v6.9h-6.9zM142.55 231.53h6.9v6.9h-6.9zM143.55 231.36h6.9v6.9h-6.9zM144.55 231.19h6.9v6.9h-6.9zM145.55 231.02h6.9v6.9h-6.9zM146.55 230.85h6.9v6.9h-6.9zM147.55 230.74h6.9v6.9h-6.9zM148.55 230.62h6.9v6.9h-6.9zM149.55 230.51h6.9v6.9h-6.9zM150.55 230.4h6.9v6.9h-6.9zM151.55 230.28h6.9v6.9h-6.9zM152.55 230.17h6.9v6.9h-6.9zM153.55 230.06h6.9v6.9h-6.9zM154.55 229.94h6.9v6.9h-6.9zM155.55 229.83h6.9v6.9h-6.9zM156.55 229.72h6.9v6.9h-6.9zM157.55 229.6h6.9v6.9h-6.9zM158.55 229.49h6.9v6.9h-6.9zM159.55 229.38h6.9v6.9h-6.9zM160.55 229.26h6.9v6.9h-6.9zM161.55 229.15h6.9v6.9h-6.9zM162.55 229.04h6.9v6.9h-6.9zM163.55 228.92h6.9v6.9h-6.9zM164.55 228.81h6.9v6.9h-6.9zM165.55 228.7h6.9v6.9h-6.9zM166.55 228.58h6.9v6.9h-6.9zM167.55 228.47h6.9v6.9h-6.9zM168.55 228.36h6.9v6.9h-6.9zM169.55 228.24h6.9v6.9h-6.9zM170.55 228.13h6.9v6.9h-6.9zM171.55 228.02h6.9v6.9h-6.9zM172.55 227.9h6.9v6.9h-6.9zM173.55 227.79h6.9v6.9h-6.9zM174.55 227.68h6.9v6.9h-6.9zM175.55 227.56h6.9v6.9h-6.9zM176.55 227.45h6.9v6.9h-6.9zM177.55 227.32h6.9v6.9h-6.9zM178.55 227.18h6.9v6.9h-6.9zM179.55 227.05h6.9v6.9h-6.9zM180.55 226.91h6.9v6.9h-6.9zM181.55 226.78h6.9v6.9h-6.9zM182.55 226.64h6.9v6.9h-6.9zM183.55 226.51h6.9v6.9h-6.9zM184.55 226.37h6.9v6.9h-6.9zM185.55 226.24h6.9v6.9h-6.9zM186.55 226.1h6.9v6.9h-6.9zM187.55 225.97h6.9v6.9h-6.9zM188.55 225.83h6.9v6.9h-6.9zM189.55 225.69h6.9v6.9h-6.9zM190.55 225.56h6.9v6.9h-6.9zM191.55 225.43h6.9v6.9h-6.9zM192.55 225.29h6.9v6.9h-6.9zM193.55 225.16h6.9v6.9h-6.9zM194.55 225.02h6.9v6.9h-6.9zM195.55 224.88h6.9v6.9h-6.9zM196.55 224.75h6.9v6.9h-6.9zM197.52 224.61h6.9v6.9h-6.9zM198.49 224.48h6.9v6.9h-6.9zM199.46 224.34h6.9v6.9h-6.9zM200.44 224.21h6.9v6.9h-6.9zM201.41 224.07h6.9v6.9h-6.9zM202.38 223.94h6.9v6.9h-6.9zM203.35 223.8h6.9v6.9h-6.9zM204.32 223.66h6.9v6.9h-6.9zM205.29 223.53h6.9v6.9h-6.9zM206.26 223.39h6.9v6.9h-6.9zM207.24 223.26h6.9v6.9h-6.9zM208.21 223.12h6.9v6.9h-6.9zM209.18 222.99h6.9v6.9h-6.9zM210.15 222.85h6.9v6.9h-6.9zM211.15 222.98h6.9v6.9h-6.9zM212.15 223.1h6.9v6.9h-6.9zM213.15 223.23h6.9v6.9h-6.9zM214.15 223.35h6.9v6.9h-6.9zM215.2 223.45h6.9v6.9h-6.9zM216.25 223.55h6.9v6.9h-6.9zM217.3 223.65h6.9v6.9h-6.9zM218.35 223.75h6.9v6.9h-6.9zM219.41 223.83h6.9v6.9h-6.9zM220.47 223.91h6.9v6.9h-6.9zM221.53 223.99h6.9v6.9h-6.9zM222.59 224.07h6.9v6.9h-6.9zM223.65 224.15h6.9v6.9h-6.9zM230.75 224.55h6.9v6.9h-6.9zM239.55 224.95h6.9v6.9h-6.9zM250.65 225.25h6.9v6.9h-6.9zM264.15 225.55h6.9v6.9h-6.9zM280.95 225.75h6.9v6.9h-6.9zM300.75 225.95h6.9v6.9h-6.9zM80.05 243.15h6.9v6.9h-6.9zM81.02 243.03h6.9v6.9h-6.9zM81.99 242.91h6.9v6.9h-6.9zM82.96 242.8h6.9v6.9h-6.9zM83.93 242.68h6.9v6.9h-6.9zM84.9 242.56h6.9v6.9h-6.9zM85.87 242.44h6.9v6.9h-6.9zM86.84 242.33h6.9v6.9h-6.9zM87.81 242.21h6.9v6.9h-6.9zM88.79 242.09h6.9v6.9h-6.9zM89.76 241.97h6.9v6.9h-6.9zM90.73 241.86h6.9v6.9h-6.9zM91.7 241.74h6.9v6.9h-6.9zM92.67 241.62h6.9v6.9h-6.9zM93.64 241.5h6.9v6.9h-6.9zM94.61 241.39h6.9v6.9h-6.9zM95.58 241.27h6.9v6.9h-6.9zM96.55 241.15h6.9v6.9h-6.9zM97.53 241.09h6.9v6.9h-6.9zM98.51 241.03h6.9v6.9h-6.9zM99.5 240.97h6.9v6.9h-6.9zM100.48 240.91h6.9v6.9h-6.9zM101.46 240.86h6.9v6.9h-6.9zM102.44 240.8h6.9v6.9h-6.9zM103.43 240.74h6.9v6.9h-6.9zM104.41 240.68h6.9v6.9h-6.9zM105.39 240.62h6.9v6.9h-6.9zM106.37 240.56h6.9v6.9h-6.9zM107.36 240.5h6.9v6.9h-6.9zM108.34 240.44h6.9v6.9h-6.9zM109.32 240.39h6.9v6.9h-6.9zM110.3 240.33h6.9v6.9h-6.9zM111.29 240.27h6.9v6.9h-6.9zM112.27 240.21h6.9v6.9h-6.9zM113.25 240.15h6.9v6.9h-6.9zM114.33 240.13h6.9v6.9h-6.9zM115.41 240.11h6.9v6.9h-6.9zM116.49 240.09h6.9v6.9h-6.9zM117.57 240.07h6.9v6.9h-6.9zM118.65 240.05h6.9v6.9h-6.9zM126.55 240.15h6.9v6.9h-6.9zM135.95 240.35h6.9v6.9h-6.9zM148.25 240.55h6.9v6.9h-6.9zM163.15 240.65h6.9v6.9h-6.9zM181.05 240.95h6.9v6.9h-6.9zM202.05 240.95h6.9v6.9h-6.9zM226.35 241.25h6.9v6.9h-6.9zM252.75 241.65h6.9v6.9h-6.9zM282.25 241.75h6.9v6.9h-6.9zM313.25 241.95h6.9v6.9h-6.9z" fill="#00aeef"/>
<path d="M484.15 209.75h6.9v6.9h-6.9zM484.93 209.16h6.9v6.9h-6.9zM485.7 208.57h6.9v6.9h-6.9zM486.48 207.99h6.9v6.9h-6.9zM487.25 207.4h6.9v6.9h-6.9zM488.03 206.81h6.9v6.9h-6.9zM488.8 206.23h6.9v6.9h-6.9zM489.58 205.64h6.9v6.9h-6.9zM490.35 205.05h6.9v6.9h-6.9zM491.12 204.46h6.9v6.9h-6.9zM491.9 203.88h6.9v6.9h-6.9zM492.68 203.29h6.9v6.9h-6.9zM493.45 202.7h6.9v6.9h-6.9zM494.23 202.11h6.9v6.9h-6.9zM495 201.53h6.9v6.9h-6.9zM495.78 200.94h6.9v6.9h-6.9zM496.55 200.35h6.9v6.9h-6.9zM497.46 199.91h6.9v6.9h-6.9zM498.37 199.48h6.9v6.9h-6.9zM499.28 199.04h6.9v6.9h-6.9zM500.19 198.6h6.9v6.9h-6.9zM501.1 198.17h6.9v6.9h-6.9zM502 197.73h6.9v6.9h-6.9zM502.91 197.3h6.9v6.9h-6.9zM503.82 196.86h6.9v6.9h-6.9zM504.73 196.42h6.9v6.9h-6.9zM505.64 195.99h6.9v6.9h-6.9zM506.55 195.55h6.9v6.9h-6.9zM507.46 195.11h6.9v6.9h-6.9zM508.37 194.68h6.9v6.9h-6.9zM509.28 194.24h6.9v6.9h-6.9zM510.19 193.8h6.9v6.9h-6.9zM511.1 193.37h6.9v6.9h-6.9zM512 192.93h6.9v6.9h-6.9zM512.91 192.5h6.9v6.9h-6.9zM513.82 192.06h6.9v6.9h-6.9zM514.73 191.62h6.9v6.9h-6.9zM515.64 191.19h6.9v6.9h-6.9zM516.55 190.75h6.9v6.9h-6.9zM517.5 190.43h6.9v6.9h-6.9zM518.44 190.11h6.9v6.9h-6.9zM519.39 189.79h6.9v6.9h-6.9zM520.33 189.47h6.9v6.9h-6.9zM521.28 189.15h6.9v6.9h-6.9zM522.23 188.83h6.9v6.9h-6.9zM523.17 188.52h6.9v6.9h-6.9zM524.12 188.2h6.9v6.9h-6.9zM525.07 187.88h6.9v6.9h-6.9zM526.01 187.56h6.9v6.9h-6.9zM526.96 187.24h6.9v6.9h-6.9zM527.9 186.92h6.9v6.9h-6.9zM528.85 186.6h6.9v6.9h-6.9zM529.8 186.28h6.9v6.9h-6.9zM530.74 185.96h6.9v6.9h-6.9zM531.69 185.64h6.9v6.9h-6.9zM532.63 185.32h6.9v6.9h-6.9zM533.58 185h6.9v6.9h-6.9zM534.53 184.68h6.9v6.9h-6.9zM535.47 184.37h6.9v6.9h-6.9zM536.42 184.05h6.9v6.9h-6.9zM537.37 183.73h6.9v6.9h-6.9zM538.31 183.41h6.9v6.9h-6.9zM539.26 183.09h6.9v6.9h-6.9zM540.2 182.77h6.9v6.9h-6.9zM541.15 182.45h6.9v6.9h-6.9zM542.07 182.79h6.9v6.9h-6.9zM543 183.12h6.9v6.9h-6.9zM543.92 183.46h6.9v6.9h-6.9zM544.85 183.8h6.9v6.9h-6.9zM545.77 184.14h6.9v6.9h-6.9zM546.7 184.48h6.9v6.9h-6.9zM547.62 184.81h6.9v6.9h-6.9zM548.55 185.15h6.9v6.9h-6.9zM549.55 185.38h6.9v6.9h-6.9zM550.55 185.61h6.9v6.9h-6.9zM551.55 185.84h6.9v6.9h-6.9zM552.55 186.07h6.9v6.9h-6.9zM553.55 186.3h6.9v6.9h-6.9zM554.55 186.53h6.9v6.9h-6.9zM555.55 186.77h6.9v6.9h-6.9zM556.55 187h6.9v6.9h-6.9zM557.55 187.23h6.9v6.9h-6.9zM558.55 187.46h6.9v6.9h-6.9zM559.55 187.69h6.9v6.9h-6.9zM560.55 187.92h6.9v6.9h-6.9zM561.55 188.15h6.9v6.9h-6.9zM562.55 188.33h6.9v6.9h-6.9zM563.55 188.51h6.9v6.9h-6.9zM564.55 188.69h6.9v6.9h-6.9zM565.55 188.87h6.9v6.9h-6.9zM566.55 189.05h6.9v6.9h-6.9zM567.55 189.23h6.9v6.9h-6.9zM568.55 189.41h6.9v6.9h-6.9zM569.55 189.59h6.9v6.9h-6.9zM570.55 189.77h6.9v6.9h-6.9zM571.55 189.95h6.9v6.9h-6.9zM572.55 190.13h6.9v6.9h-6.9zM573.55 190.31h6.9v6.9h-6.9zM574.55 190.49h6.9v6.9h-6.9zM575.55 190.67h6.9v6.9h-6.9zM576.55 190.85h6.9v6.9h-6.9zM577.55 190.94h6.9v6.9h-6.9zM578.55 191.04h6.9v6.9h-6.9zM579.55 191.13h6.9v6.9h-6.9zM580.55 191.23h6.9v6.9h-6.9zM581.55 191.32h6.9v6.9h-6.9zM582.55 191.42h6.9v6.9h-6.9zM583.55 191.51h6.9v6.9h-6.9zM584.55 191.61h6.9v6.9h-6.9zM585.55 191.7h6.9v6.9h-6.9zM586.55 191.79h6.9v6.9h-6.9zM587.55 191.89h6.9v6.9h-6.9zM588.55 191.98h6.9v6.9h-6.9zM589.55 192.08h6.9v6.9h-6.9zM590.55 192.17h6.9v6.9h-6.9zM591.55 192.27h6.9v6.9h-6.9zM592.55 192.36h6.9v6.9h-6.9zM593.55 192.46h6.9v6.9h-6.9zM594.55 192.55h6.9v6.9h-6.9zM595.55 192.62h6.9v6.9h-6.9zM596.55 192.68h6.9v6.9h-6.9zM597.55 192.75h6.9v6.9h-6.9zM598.55 192.82h6.9v6.9h-6.9zM599.55 192.88h6.9v6.9h-6.9zM600.55 192.95h6.9v6.9h-6.9zM601.55 193.02h6.9v6.9h-6.9zM602.55 193.08h6.9v6.9h-6.9zM603.55 193.15h6.9v6.9h-6.9zM604.55 193.22h6.9v6.9h-6.9zM605.55 193.28h6.9v6.9h-6.9zM606.55 193.35h6.9v6.9h-6.9zM613.85 193.75h6.9v6.9h-6.9zM622.05 194.35h6.9v6.9h-6.9zM629.75 194.85h6.9v6.9h-6.9zM637.95 195.25h6.9v6.9h-6.9zM645.75 195.45h6.9v6.9h-6.9zM654.05 195.75h6.9v6.9h-6.9zM662.75 195.95h6.9v6.9h-6.9zM671.65 196.35h6.9v6.9h-6.9zM680.75 196.65h6.9v6.9h-6.9zM690.25 197.05h6.9v6.9h-6.9zM699.65 197.35h6.9v6.9h-6.9zM709.05 197.85h6.9v6.9h-6.9zM718.85 198.45h6.9v6.9h-6.9zM551.85 179.35h6.9v6.9h-6.9zM552.84 179.17h6.9v6.9h-6.9zM553.83 178.99h6.9v6.9h-6.9zM554.81 178.81h6.9v6.9h-6.9zM555.8 178.63h6.9v6.9h-6.9zM556.79 178.45h6.9v6.9h-6.9zM557.78 178.27h6.9v6.9h-6.9zM558.77 178.09h6.9v6.9h-6.9zM559.75 177.91h6.9v6.9h-6.9zM560.74 177.73h6.9v6.9h-6.9zM561.73 177.55h6.9v6.9h-6.9zM562.72 177.37h6.9v6.9h-6.9zM563.71 177.19h6.9v6.9h-6.9zM564.69 177.01h6.9v6.9h-6.9zM565.68 176.83h6.9v6.9h-6.9zM566.67 176.65h6.9v6.9h-6.9zM567.66 176.47h6.9v6.9h-6.9zM568.65 176.29h6.9v6.9h-6.9zM569.63 176.11h6.9v6.9h-6.9zM570.62 175.93h6.9v6.9h-6.9zM571.61 175.75h6.9v6.9h-6.9zM572.6 175.57h6.9v6.9h-6.9zM573.59 175.39h6.9v6.9h-6.9zM574.57 175.21h6.9v6.9h-6.9zM575.56 175.03h6.9v6.9h-6.9zM576.55 174.85h6.9v6.9h-6.9zM577.55 174.69h6.9v6.9h-6.9zM578.55 174.53h6.9v6.9h-6.9zM579.55 174.37h6.9v6.9h-6.9zM580.55 174.21h6.9v6.9h-6.9zM581.55 174.04h6.9v6.9h-6.9zM582.55 173.88h6.9v6.9h-6.9zM583.55 173.72h6.9v6.9h-6.9zM584.55 173.56h6.9v6.9h-6.9zM585.55 173.4h6.9v6.9h-6.9zM586.55 173.24h6.9v6.9h-6.9zM587.55 173.08h6.9v6.9h-6.9zM588.55 172.92h6.9v6.9h-6.9zM589.55 172.76h6.9v6.9h-6.9zM590.55 172.59h6.9v6.9h-6.9zM591.55 172.43h6.9v6.9h-6.9zM592.55 172.27h6.9v6.9h-6.9zM593.55 172.11h6.9v6.9h-6.9zM594.55 171.95h6.9v6.9h-6.9zM595.55 171.8h6.9v6.9h-6.9zM596.55 171.66h6.9v6.9h-6.9zM597.55 171.51h6.9v6.9h-6.9zM598.55 171.36h6.9v6.9h-6.9zM599.55 171.21h6.9v6.9h-6.9zM600.55 171.07h6.9v6.9h-6.9zM601.55 170.92h6.9v6.9h-6.9zM602.55 170.77h6.9v6.9h-6.9zM603.55 170.63h6.9v6.9h-6.9zM604.55 170.48h6.9v6.9h-6.9zM605.55 170.33h6.9v6.9h-6.9zM606.55 170.19h6.9v6.9h-6.9zM607.55 170.04h6.9v6.9h-6.9zM608.55 169.89h6.9v6.9h-6.9zM609.55 169.74h6.9v6.9h-6.9zM610.55 169.6h6.9v6.9h-6.9zM611.55 169.45h6.9v6.9h-6.9zM612.52 169.32h6.9v6.9h-6.9zM613.5 169.2h6.9v6.9h-6.9zM614.47 169.07h6.9v6.9h-6.9zM615.44 168.94h6.9v6.9h-6.9zM616.42 168.82h6.9v6.9h-6.9zM617.39 168.69h6.9v6.9h-6.9zM618.37 168.57h6.9v6.9h-6.9zM619.34 168.44h6.9v6.9h-6.9zM620.31 168.31h6.9v6.9h-6.9zM621.29 168.19h6.9v6.9h-6.9zM622.26 168.06h6.9v6.9h-6.9zM623.23 167.93h6.9v6.9h-6.9zM624.21 167.81h6.9v6.9h-6.9zM625.18 167.68h6.9v6.9h-6.9zM626.16 167.56h6.9v6.9h-6.9zM627.13 167.43h6.9v6.9h-6.9zM628.1 167.3h6.9v6.9h-6.9zM629.08 167.18h6.9v6.9h-6.9zM630.05 167.05h6.9v6.9h-6.9zM630.92 167.4h6.9v6.9h-6.9zM631.8 167.75h6.9v6.9h-6.9zM632.67 168.1h6.9v6.9h-6.9zM633.55 168.45h6.9v6.9h-6.9zM634.42 168.78h6.9v6.9h-6.9zM635.3 169.1h6.9v6.9h-6.9zM636.17 169.43h6.9v6.9h-6.9zM637.05 169.75h6.9v6.9h-6.9zM637.99 170.11h6.9v6.9h-6.9zM638.92 170.47h6.9v6.9h-6.9zM639.86 170.84h6.9v6.9h-6.9zM640.8 171.2h6.9v6.9h-6.9zM641.74 171.56h6.9v6.9h-6.9zM642.67 171.93h6.9v6.9h-6.9zM643.61 172.29h6.9v6.9h-6.9zM644.55 172.65h6.9v6.9h-6.9zM645.55 172.9h6.9v6.9h-6.9zM646.55 173.15h6.9v6.9h-6.9zM647.55 173.4h6.9v6.9h-6.9zM648.55 173.65h6.9v6.9h-6.9zM649.55 173.9h6.9v6.9h-6.9zM650.55 174.15h6.9v6.9h-6.9zM651.55 174.4h6.9v6.9h-6.9zM652.55 174.65h6.9v6.9h-6.9zM653.55 174.84h6.9v6.9h-6.9zM654.55 175.03h6.9v6.9h-6.9zM655.55 175.21h6.9v6.9h-6.9zM656.55 175.4h6.9v6.9h-6.9zM657.55 175.59h6.9v6.9h-6.9zM658.55 175.78h6.9v6.9h-6.9zM659.55 175.96h6.9v6.9h-6.9zM660.55 176.15h6.9v6.9h-6.9zM661.55 176.26h6.9v6.9h-6.9zM662.55 176.38h6.9v6.9h-6.9zM663.55 176.49h6.9v6.9h-6.9zM664.55 176.6h6.9v6.9h-6.9zM665.55 176.71h6.9v6.9h-6.9zM666.55 176.83h6.9v6.9h-6.9zM667.55 176.94h6.9v6.9h-6.9zM668.55 177.05h6.9v6.9h-6.9zM669.55 177.15h6.9v6.9h-6.9zM670.55 177.25h6.9v6.9h-6.9zM671.55 177.35h6.9v6.9h-6.9zM672.55 177.45h6.9v6.9h-6.9zM677.85 177.75h6.9v6.9h-6.9zM685.85 178.25h6.9v6.9h-6.9zM693.95 178.95h6.9v6.9h-6.9zM702.65 179.55h6.9v6.9h-6.9zM712.05 180.15h6.9v6.9h-6.9zM713.85 220.35h6.9v6.9h-6.9zM706.39 220.11h6.9v6.9h-6.9zM698.93 219.87h6.9v6.9h-6.9zM691.47 219.63h6.9v6.9h-6.9zM684.01 219.39h6.9v6.9h-6.9zM676.55 219.15h6.9v6.9h-6.9zM669.88 218.92h6.9v6.9h-6.9zM663.22 218.68h6.9v6.9h-6.9zM656.55 218.45h6.9v6.9h-6.9zM649.88 218.22h6.9v6.9h-6.9zM643.22 217.98h6.9v6.9h-6.9zM636.55 217.75h6.9v6.9h-6.9zM629.55 217.37h6.9v6.9h-6.9zM622.55 216.98h6.9v6.9h-6.9zM615.55 216.6h6.9v6.9h-6.9zM608.55 216.22h6.9v6.9h-6.9zM601.55 215.83h6.9v6.9h-6.9zM484.15 209.75h6.9v6.9h-6.9zM485.85 209.3h6.9v6.9h-6.9zM487.55 208.85h6.9v6.9h-6.9zM489.15 208.55h6.9v6.9h-6.9zM490.75 208.25h6.9v6.9h-6.9zM492.65 208.35h6.9v6.9h-6.9zM494.55 208.45h6.9v6.9h-6.9zM496.35 208.75h6.9v6.9h-6.9zM498.15 209.05h6.9v6.9h-6.9zM500.1 209.5h6.9v6.9h-6.9zM502.05 209.95h6.9v6.9h-6.9zM504 210.4h6.9v6.9h-6.9zM505.95 210.85h6.9v6.9h-6.9zM508.07 211.09h6.9v6.9h-6.9zM510.19 211.33h6.9v6.9h-6.9zM512.31 211.57h6.9v6.9h-6.9zM514.43 211.81h6.9v6.9h-6.9zM516.55 212.05h6.9v6.9h-6.9zM518.35 212.15h6.9v6.9h-6.9zM520.15 212.25h6.9v6.9h-6.9zM521.95 212.35h6.9v6.9h-6.9zM523.75 212.45h6.9v6.9h-6.9zM525.55 212.55h6.9v6.9h-6.9zM527.42 212.62h6.9v6.9h-6.9zM529.3 212.7h6.9v6.9h-6.9zM531.17 212.78h6.9v6.9h-6.9zM533.05 212.85h6.9v6.9h-6.9zM534.92 212.93h6.9v6.9h-6.9zM536.8 213h6.9v6.9h-6.9zM538.67 213.08h6.9v6.9h-6.9zM540.55 213.15h6.9v6.9h-6.9zM542.55 213.24h6.9v6.9h-6.9zM544.55 213.33h6.9v6.9h-6.9zM546.55 213.42h6.9v6.9h-6.9zM548.55 213.51h6.9v6.9h-6.9zM550.55 213.59h6.9v6.9h-6.9zM552.55 213.68h6.9v6.9h-6.9zM554.55 213.77h6.9v6.9h-6.9zM556.55 213.86h6.9v6.9h-6.9zM558.55 213.95h6.9v6.9h-6.9zM560.55 214.04h6.9v6.9h-6.9zM562.55 214.13h6.9v6.9h-6.9zM564.55 214.22h6.9v6.9h-6.9zM566.55 214.31h6.9v6.9h-6.9zM568.55 214.39h6.9v6.9h-6.9zM570.55 214.48h6.9v6.9h-6.9zM572.55 214.57h6.9v6.9h-6.9zM574.55 214.66h6.9v6.9h-6.9zM576.55 214.75h6.9v6.9h-6.9zM578.55 214.83h6.9v6.9h-6.9zM580.55 214.91h6.9v6.9h-6.9zM582.55 214.98h6.9v6.9h-6.9zM584.55 215.06h6.9v6.9h-6.9zM586.55 215.14h6.9v6.9h-6.9zM588.55 215.22h6.9v6.9h-6.9zM590.55 215.29h6.9v6.9h-6.9zM592.55 215.37h6.9v6.9h-6.9zM594.55 215.45h6.9v6.9h-6.9zM596.55 215.56h6.9v6.9h-6.9zM598.55 215.67h6.9v6.9h-6.9zM600.55 215.78h6.9v6.9h-6.9zM602.55 215.89h6.9v6.9h-6.9zM604.55 216h6.9v6.9h-6.9zM606.55 216.11h6.9v6.9h-6.9zM608.55 216.22h6.9v6.9h-6.9zM610.55 216.33h6.9v6.9h-6.9zM612.55 216.44h6.9v6.9h-6.9zM614.55 216.55h6.9v6.9h-6.9zM616.55 216.65h6.9v6.9h-6.9zM618.55 216.76h6.9v6.9h-6.9zM620.55 216.87h6.9v6.9h-6.9zM622.55 216.98h6.9v6.9h-6.9zM624.55 217.09h6.9v6.9h-6.9zM626.55 217.2h6.9v6.9h-6.9zM628.55 217.31h6.9v6.9h-6.9zM630.55 217.42h6.9v6.9h-6.9zM632.55 217.53h6.9v6.9h-6.9zM634.55 217.64h6.9v6.9h-6.9zM636.55 217.75h6.9v6.9h-6.9z" fill="#00aeef"/>
<path d="M496.7 81.4V120.7M492.2 81.4h9.4M492.2 120.7h9.4" fill="none" stroke="#333335" stroke-width="1.4"/>
<path d="M493.3 96.2V105.6M500.1 96.2V105.6" fill="none" stroke="#333335" stroke-width="1.5"/>
<rect x="493.3" y="98.1" width="6.8" height="5.8" fill="#333335"/>
<g transform="translate(55.7 258.79)" fill="none" stroke="#333335" stroke-linejoin="round">
<path d="M4.2 0.3V18.2" stroke-width="2.82"/>
<path d="M4.6 0.9L0.3 4.2" stroke-width="2.43"/>
<path d="M0 18.0H7.9" stroke-width="2.3"/>
</g>
<g transform="translate(53.1 202.08)" fill="none" stroke="#333335" stroke-linejoin="round">
<circle cx="2.2" cy="5.1" r="1.35" fill="#333335" stroke="none"/>
<path d="M1.1 4.8C1.0 2.5 3.5 0.9 7.0 0.9C10.5 0.9 12.6 2.8 12.6 5.2C12.6 8.0 9.0 9.3 5.5 10.8C2.5 12.2 0.9 14.5 0.8 18.4" stroke-width="2.43"/>
<path d="M1.2 15.0C3.5 14.2 6.5 17.9 9.5 17.9C11.8 17.9 12.8 16.5 12.8 14.4" stroke-width="2.56"/>
</g>
<g transform="translate(53.1 145.37)" fill="none" stroke="#333335" stroke-linejoin="round">
<circle cx="2.1" cy="5" r="1.35" fill="#333335" stroke="none"/>
<circle cx="2.2" cy="13.7" r="1.35" fill="#333335" stroke="none"/>
<path d="M1.2 4.6C1.5 2.2 3.8 0.9 6.6 0.9C9.8 0.9 12.0 2.3 12.0 4.5C12.0 6.8 9.8 8.3 6.3 8.3H7.7C10.8 8.4 13.0 10.3 13.0 13.3C13.0 16.5 10.3 18.5 6.6 18.5C3.3 18.5 1.2 16.6 1.2 14.0" stroke-width="2.43"/>
</g>
<g transform="translate(52.5 88.66)" fill="none" stroke="#333335" stroke-linejoin="round">
<path d="M9.4 0.5V18.4" stroke-width="2.82"/>
<path d="M9.9 0.9L0.6 12.3" stroke-width="2.18"/>
<path d="M0 12.4H13.8" stroke-width="2.3"/>
<path d="M6.3 17.6H12.2" stroke-width="2.3"/>
</g>
<g transform="translate(52.8 31.95)" fill="none" stroke="#333335" stroke-linejoin="round">
<circle cx="2.4" cy="13.6" r="1.35" fill="#333335" stroke="none"/>
<path d="M11.3 0.2V0.9H2.8L1.5 9.0C2.8 6.8 4.9 5.7 7.1 5.7C10.8 5.7 13.3 8.4 13.3 12.0C13.3 15.7 10.6 18.0 7.0 18.0C3.8 18.0 1.5 16.4 1.5 13.9" stroke-width="2.3"/>
</g>
<g transform="translate(455.7 258.79)" fill="none" stroke="#333335" stroke-linejoin="round">
<path d="M4.2 0.3V18.2" stroke-width="2.82"/>
<path d="M4.6 0.9L0.3 4.2" stroke-width="2.43"/>
<path d="M0 18.0H7.9" stroke-width="2.3"/>
</g>
<g transform="translate(453.1 202.08)" fill="none" stroke="#333335" stroke-linejoin="round">
<circle cx="2.2" cy="5.1" r="1.35" fill="#333335" stroke="none"/>
<path d="M1.1 4.8C1.0 2.5 3.5 0.9 7.0 0.9C10.5 0.9 12.6 2.8 12.6 5.2C12.6 8.0 9.0 9.3 5.5 10.8C2.5 12.2 0.9 14.5 0.8 18.4" stroke-width="2.43"/>
<path d="M1.2 15.0C3.5 14.2 6.5 17.9 9.5 17.9C11.8 17.9 12.8 16.5 12.8 14.4" stroke-width="2.56"/>
</g>
<g transform="translate(453.1 145.37)" fill="none" stroke="#333335" stroke-linejoin="round">
<circle cx="2.1" cy="5" r="1.35" fill="#333335" stroke="none"/>
<circle cx="2.2" cy="13.7" r="1.35" fill="#333335" stroke="none"/>
<path d="M1.2 4.6C1.5 2.2 3.8 0.9 6.6 0.9C9.8 0.9 12.0 2.3 12.0 4.5C12.0 6.8 9.8 8.3 6.3 8.3H7.7C10.8 8.4 13.0 10.3 13.0 13.3C13.0 16.5 10.3 18.5 6.6 18.5C3.3 18.5 1.2 16.6 1.2 14.0" stroke-width="2.43"/>
</g>
<g transform="translate(452.5 88.66)" fill="none" stroke="#333335" stroke-linejoin="round">
<path d="M9.4 0.5V18.4" stroke-width="2.82"/>
<path d="M9.9 0.9L0.6 12.3" stroke-width="2.18"/>
<path d="M0 12.4H13.8" stroke-width="2.3"/>
<path d="M6.3 17.6H12.2" stroke-width="2.3"/>
</g>
<g transform="translate(452.8 31.95)" fill="none" stroke="#333335" stroke-linejoin="round">
<circle cx="2.4" cy="13.6" r="1.35" fill="#333335" stroke="none"/>
<path d="M11.3 0.2V0.9H2.8L1.5 9.0C2.8 6.8 4.9 5.7 7.1 5.7C10.8 5.7 13.3 8.4 13.3 12.0C13.3 15.7 10.6 18.0 7.0 18.0C3.8 18.0 1.5 16.4 1.5 13.9" stroke-width="2.3"/>
</g>
<g transform="translate(75.9 311.1)" fill="none" stroke="#333335" stroke-linejoin="round">
<path d="M9.4 0.5V18.4" stroke-width="2.82"/>
<path d="M9.9 0.9L0.6 12.3" stroke-width="2.18"/>
<path d="M0 12.4H13.8" stroke-width="2.3"/>
<path d="M6.3 17.6H12.2" stroke-width="2.3"/>
</g>
<g transform="translate(119.9 311.1)" fill="none" stroke="#333335" stroke-linejoin="round">
<circle cx="10.6" cy="4.3" r="1.35" fill="#333335" stroke="none"/>
<path d="M11.7 4.2C12.0 2.2 10.2 0.8 7.3 0.8C3.0 0.8 1.0 5.5 1.0 10.5C1.0 15.5 3.0 18.3 6.9 18.3C10.5 18.3 12.5 15.8 12.5 12.7C12.5 9.6 10.3 7.4 7.0 7.4C4.3 7.4 2.2 9.0 1.2 11.6" stroke-width="2.43"/>
</g>
<g transform="translate(163.1 311.1)" fill="none" stroke="#333335" stroke-linejoin="round">
<path d="M7.0 1.0C10.4 1.0 12.0 2.4 12.0 4.6C12.0 6.8 10.4 8.1 7.0 8.1C3.7 8.1 2.2 6.8 2.2 4.6C2.2 2.4 3.7 1.0 7.0 1.0Z" stroke-width="2.43"/>
<path d="M7.0 8.1C10.9 8.1 12.9 10.2 12.9 13.2C12.9 16.2 10.9 18.3 7.0 18.3C3.0 18.3 1.05 16.2 1.05 13.2C1.05 10.2 3.0 8.1 7.0 8.1Z" stroke-width="2.43"/>
</g>
<g transform="translate(202 311.1)" fill="none" stroke="#333335" stroke-linejoin="round">
<path d="M4.2 0.3V18.2" stroke-width="2.82"/>
<path d="M4.6 0.9L0.3 4.2" stroke-width="2.43"/>
<path d="M0 18.0H7.9" stroke-width="2.3"/>
</g>
<g transform="translate(215.3 311.1)" fill="none" stroke="#333335" stroke-linejoin="round">
<ellipse cx="6.85" cy="9.5" rx="5.9" ry="8.85" stroke-width="2.43"/>
</g>
<g transform="translate(245.4 311.1)" fill="none" stroke="#333335" stroke-linejoin="round">
<path d="M4.2 0.3V18.2" stroke-width="2.82"/>
<path d="M4.6 0.9L0.3 4.2" stroke-width="2.43"/>
<path d="M0 18.0H7.9" stroke-width="2.3"/>
</g>
<g transform="translate(258.7 311.1)" fill="none" stroke="#333335" stroke-linejoin="round">
<circle cx="2.2" cy="5.1" r="1.35" fill="#333335" stroke="none"/>
<path d="M1.1 4.8C1.0 2.5 3.5 0.9 7.0 0.9C10.5 0.9 12.6 2.8 12.6 5.2C12.6 8.0 9.0 9.3 5.5 10.8C2.5 12.2 0.9 14.5 0.8 18.4" stroke-width="2.43"/>
<path d="M1.2 15.0C3.5 14.2 6.5 17.9 9.5 17.9C11.8 17.9 12.8 16.5 12.8 14.4" stroke-width="2.56"/>
</g>
<g transform="translate(288.3 311.1)" fill="none" stroke="#333335" stroke-linejoin="round">
<path d="M4.2 0.3V18.2" stroke-width="2.82"/>
<path d="M4.6 0.9L0.3 4.2" stroke-width="2.43"/>
<path d="M0 18.0H7.9" stroke-width="2.3"/>
</g>
<g transform="translate(302 311.1)" fill="none" stroke="#333335" stroke-linejoin="round">
<path d="M9.4 0.5V18.4" stroke-width="2.82"/>
<path d="M9.9 0.9L0.6 12.3" stroke-width="2.18"/>
<path d="M0 12.4H13.8" stroke-width="2.3"/>
<path d="M6.3 17.6H12.2" stroke-width="2.3"/>
</g>
<g transform="translate(530.3 311.1)" fill="none" stroke="#333335" stroke-linejoin="round">
<circle cx="2.4" cy="13.6" r="1.35" fill="#333335" stroke="none"/>
<path d="M11.3 0.2V0.9H2.8L1.5 9.0C2.8 6.8 4.9 5.7 7.1 5.7C10.8 5.7 13.3 8.4 13.3 12.0C13.3 15.7 10.6 18.0 7.0 18.0C3.8 18.0 1.5 16.4 1.5 13.9" stroke-width="2.3"/>
</g>
<g transform="translate(547 311.1)" fill="none" stroke="#333335" stroke-linejoin="round">
<ellipse cx="6.85" cy="9.5" rx="5.9" ry="8.85" stroke-width="2.43"/>
</g>
<g transform="translate(613.8 311.1)" fill="none" stroke="#333335" stroke-linejoin="round">
<path d="M4.2 0.3V18.2" stroke-width="2.82"/>
<path d="M4.6 0.9L0.3 4.2" stroke-width="2.43"/>
<path d="M0 18.0H7.9" stroke-width="2.3"/>
</g>
<g transform="translate(627.1 311.1)" fill="none" stroke="#333335" stroke-linejoin="round">
<ellipse cx="6.85" cy="9.5" rx="5.9" ry="8.85" stroke-width="2.43"/>
</g>
<g transform="translate(643.6 311.1)" fill="none" stroke="#333335" stroke-linejoin="round">
<ellipse cx="6.85" cy="9.5" rx="5.9" ry="8.85" stroke-width="2.43"/>
</g>
<g transform="translate(703 311.1)" fill="none" stroke="#333335" stroke-linejoin="round">
<path d="M4.2 0.3V18.2" stroke-width="2.82"/>
<path d="M4.6 0.9L0.3 4.2" stroke-width="2.43"/>
<path d="M0 18.0H7.9" stroke-width="2.3"/>
</g>
<g transform="translate(715.6 311.1)" fill="none" stroke="#333335" stroke-linejoin="round">
<circle cx="2.4" cy="13.6" r="1.35" fill="#333335" stroke="none"/>
<path d="M11.3 0.2V0.9H2.8L1.5 9.0C2.8 6.8 4.9 5.7 7.1 5.7C10.8 5.7 13.3 8.4 13.3 12.0C13.3 15.7 10.6 18.0 7.0 18.0C3.8 18.0 1.5 16.4 1.5 13.9" stroke-width="2.3"/>
</g>
<g transform="translate(732.1 311.1)" fill="none" stroke="#333335" stroke-linejoin="round">
<ellipse cx="6.85" cy="9.5" rx="5.9" ry="8.85" stroke-width="2.43"/>
</g>
<g transform="translate(168.1 346.2)" fill="none" stroke="#333335" stroke-linejoin="round">
<path d="M2.6 0.6V18.3" stroke-width="2.3"/>
<path d="M15.0 0.6V18.3" stroke-width="3.07"/>
<path d="M3.3 0.6L8.4 17.4" stroke-width="3.46"/>
<path d="M8.5 18.0L14.6 0.6" stroke-width="1.92"/>
<path d="M0 0.8H3.4M13.7 0.8H17.5M0 18.2H4.8M11.6 18.2H17.5" stroke-width="2.05"/>
</g>
<g transform="translate(188.7 343.8)" fill="none" stroke="#333335" stroke-linejoin="round">
<path d="M0 26.1L14.8 0" stroke-width="2.05"/>
</g>
<g transform="translate(206.6 346.2)" fill="none" stroke="#333335" stroke-linejoin="round">
<path d="M2.6 0.6V18.3" stroke-width="2.3"/>
<path d="M15.0 0.6V18.3" stroke-width="3.07"/>
<path d="M3.3 0.6L8.4 17.4" stroke-width="3.46"/>
<path d="M8.5 18.0L14.6 0.6" stroke-width="1.92"/>
<path d="M0 0.8H3.4M13.7 0.8H17.5M0 18.2H4.8M11.6 18.2H17.5" stroke-width="2.05"/>
</g>
<g transform="translate(232.4 367.2)" fill="none" stroke="#333335" stroke-linejoin="round">
<ellipse cx="0" cy="0" rx="5.6" ry="5.6" stroke-width="2.18"/>
<path d="M-5.6 0H5.6M0 -5.6V5.6" stroke-width="1.66"/>
</g>
<g transform="translate(574.8 346.2)" fill="none" stroke="#333335" stroke-linejoin="round">
<path d="M2.6 0.6V18.3" stroke-width="2.3"/>
<path d="M15.0 0.6V18.3" stroke-width="3.07"/>
<path d="M3.3 0.6L8.4 17.4" stroke-width="3.46"/>
<path d="M8.5 18.0L14.6 0.6" stroke-width="1.92"/>
<path d="M0 0.8H3.4M13.7 0.8H17.5M0 18.2H4.8M11.6 18.2H17.5" stroke-width="2.05"/>
</g>
<g transform="translate(595.4 343.8)" fill="none" stroke="#333335" stroke-linejoin="round">
<path d="M0 26.1L14.8 0" stroke-width="2.05"/>
</g>
<g transform="translate(613.3 346.2)" fill="none" stroke="#333335" stroke-linejoin="round">
<path d="M2.6 0.6V18.3" stroke-width="2.3"/>
<path d="M15.0 0.6V18.3" stroke-width="3.07"/>
<path d="M3.3 0.6L8.4 17.4" stroke-width="3.46"/>
<path d="M8.5 18.0L14.6 0.6" stroke-width="1.92"/>
<path d="M0 0.8H3.4M13.7 0.8H17.5M0 18.2H4.8M11.6 18.2H17.5" stroke-width="2.05"/>
</g>
<g transform="translate(639.1 367.2)" fill="none" stroke="#333335" stroke-linejoin="round">
<ellipse cx="0" cy="0" rx="5.6" ry="5.6" stroke-width="2.18"/>
<path d="M-5.6 0H5.6M0 -5.6V5.6" stroke-width="1.66"/>
</g>
<g transform="translate(10.4 202.3) rotate(-90)" fill="none" stroke="#333335" stroke-linejoin="round">
<path d="M3.15 0.8V18.3" stroke-width="2.82"/>
<path d="M0 0.8H8.5C11.5 0.8 13.0 2.6 13.0 5.0C13.0 7.5 11.5 9.25 8.5 9.25H3.15" stroke-width="2.3"/>
<path d="M8.6 9.4C10.0 11.0 10.8 14.0 12.0 17.0C12.5 18.4 13.6 18.9 14.3 18.0C14.8 17.4 15.0 17.0 15.1 16.5" stroke-width="2.3"/>
<path d="M0 18.3H5.7" stroke-width="2.05"/>
</g>
<g transform="translate(7.8 183.6) rotate(-90)" fill="none" stroke="#333335" stroke-linejoin="round">
<path d="M0 26.1L14.8 0" stroke-width="2.05"/>
</g>
<g transform="translate(10.4 165.3) rotate(-90)" fill="none" stroke="#333335" stroke-linejoin="round">
<path d="M3.15 0.8V18.3" stroke-width="2.82"/>
<path d="M0 0.8H8.5C11.5 0.8 13.0 2.6 13.0 5.0C13.0 7.5 11.5 9.25 8.5 9.25H3.15" stroke-width="2.3"/>
<path d="M8.6 9.4C10.0 11.0 10.8 14.0 12.0 17.0C12.5 18.4 13.6 18.9 14.3 18.0C14.8 17.4 15.0 17.0 15.1 16.5" stroke-width="2.3"/>
<path d="M0 18.3H5.7" stroke-width="2.05"/>
</g>
<g transform="translate(31.4 141.8) rotate(-90)" fill="none" stroke="#333335" stroke-linejoin="round">
<ellipse cx="0" cy="0" rx="5.6" ry="5.6" stroke-width="2.18"/>
<path d="M-5.6 0H5.6M0 -5.6V5.6" stroke-width="1.66"/>
</g>
<g transform="translate(410.4 202.3) rotate(-90)" fill="none" stroke="#333335" stroke-linejoin="round">
<path d="M3.15 0.8V18.3" stroke-width="2.82"/>
<path d="M0 0.8H8.5C11.5 0.8 13.0 2.6 13.0 5.0C13.0 7.5 11.5 9.25 8.5 9.25H3.15" stroke-width="2.3"/>
<path d="M8.6 9.4C10.0 11.0 10.8 14.0 12.0 17.0C12.5 18.4 13.6 18.9 14.3 18.0C14.8 17.4 15.0 17.0 15.1 16.5" stroke-width="2.3"/>
<path d="M0 18.3H5.7" stroke-width="2.05"/>
</g>
<g transform="translate(407.8 183.6) rotate(-90)" fill="none" stroke="#333335" stroke-linejoin="round">
<path d="M0 26.1L14.8 0" stroke-width="2.05"/>
</g>
<g transform="translate(410.4 165.3) rotate(-90)" fill="none" stroke="#333335" stroke-linejoin="round">
<path d="M3.15 0.8V18.3" stroke-width="2.82"/>
<path d="M0 0.8H8.5C11.5 0.8 13.0 2.6 13.0 5.0C13.0 7.5 11.5 9.25 8.5 9.25H3.15" stroke-width="2.3"/>
<path d="M8.6 9.4C10.0 11.0 10.8 14.0 12.0 17.0C12.5 18.4 13.6 18.9 14.3 18.0C14.8 17.4 15.0 17.0 15.1 16.5" stroke-width="2.3"/>
<path d="M0 18.3H5.7" stroke-width="2.05"/>
</g>
<g transform="translate(431.4 141.8) rotate(-90)" fill="none" stroke="#333335" stroke-linejoin="round">
<ellipse cx="0" cy="0" rx="5.6" ry="5.6" stroke-width="2.18"/>
<path d="M-5.6 0H5.6M0 -5.6V5.6" stroke-width="1.66"/>
</g>
<g transform="translate(117 73.9)" fill="none" stroke="#333335" stroke-linejoin="round">
<path d="M1.4 4.0C2.0 1.9 4.0 0.9 6.3 0.9C9.2 0.9 10.8 2.5 10.8 5.0V10.6C10.8 12.0 11.8 12.8 13.4 13.4" stroke-width="2.56"/>
<path d="M10.7 5.3C8.0 5.6 5.5 5.9 3.6 6.6C1.9 7.2 1.0 8.5 1.0 9.9C1.0 12.0 2.6 13.2 4.9 13.2C7.6 13.2 10.0 11.8 10.7 9.5" stroke-width="2.43"/>
</g>
<g transform="translate(511.1 68.5)" fill="none" stroke="#333335" stroke-linejoin="round">
<path d="M3.35 0.8V18.3" stroke-width="3.33"/>
<path d="M0.2 0.9H3.4" stroke-width="2.05"/>
<path d="M4.3 8.8C5.3 7.3 6.8 6.6 8.4 6.6C11.6 6.6 13.8 9.0 13.8 12.6C13.8 16.2 11.6 18.5 8.2 18.5C6.2 18.5 4.6 17.8 3.4 16.6" stroke-width="2.43"/>
</g>
</svg>
</body></html>
